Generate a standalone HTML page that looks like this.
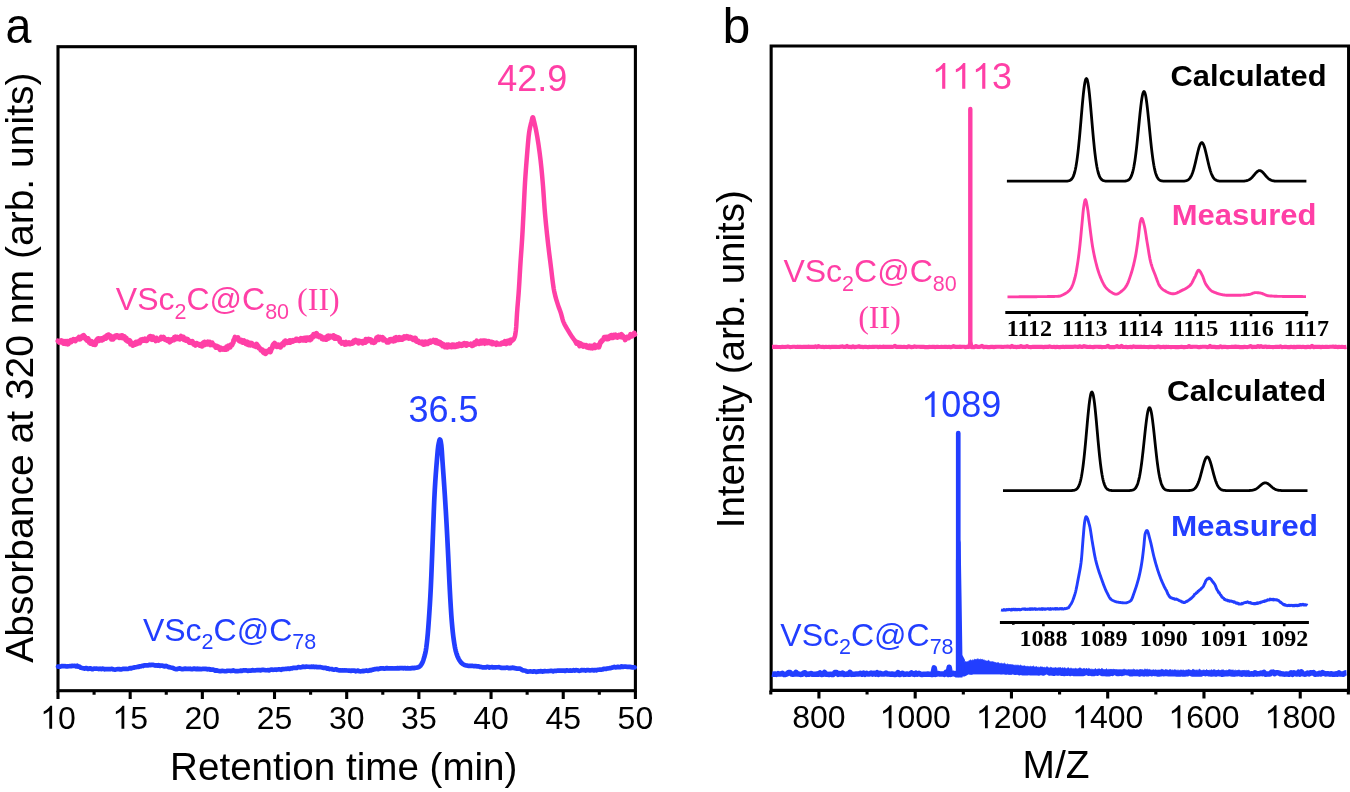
<!DOCTYPE html>
<html><head><meta charset="utf-8"><title>Figure</title>
<style>
html,body{margin:0;padding:0;background:#fff;}
body{width:1350px;height:792px;overflow:hidden;}
svg{display:block;will-change:transform;}
</style></head>
<body>
<svg width="1350" height="792" viewBox="0 0 1350 792">
<rect width="1350" height="792" fill="#fff"/>
<text x="5.6" y="43.1" font-family='"Liberation Sans", sans-serif' font-size="50" font-weight="normal" fill="#000" text-anchor="start" textLength="25.9" lengthAdjust="spacingAndGlyphs">a</text>
<text x="722.6" y="43.1" font-family='"Liberation Sans", sans-serif' font-size="50" font-weight="normal" fill="#000" text-anchor="start" >b</text>
<rect x="58" y="46.7" width="577.4" height="644" fill="none" stroke="#000" stroke-width="3.1"/>
<path d="M58 690.7 V698.9 M94.09 690.7 V694.7 M130.18 690.7 V698.9 M166.26 690.7 V694.7 M202.35 690.7 V698.9 M238.44 690.7 V694.7 M274.52 690.7 V698.9 M310.61 690.7 V694.7 M346.7 690.7 V698.9 M382.79 690.7 V694.7 M418.88 690.7 V698.9 M454.96 690.7 V694.7 M491.05 690.7 V698.9 M527.14 690.7 V694.7 M563.23 690.7 V698.9 M599.31 690.7 V694.7 M635.4 690.7 V698.9" stroke="#000" stroke-width="3.1" fill="none"/>
<text x="40.2" y="728.7" font-family='"Liberation Sans", sans-serif' font-size="32" fill="#000">&#8199;0</text>
<path transform="translate(40.2 728.7) scale(32)" d="M0.3726 0L0.2847 0L0.2847 -0.5601Q0.2529 -0.5298 0.2026 -0.5002Q0.1523 -0.4707 0.1089 -0.4546L0.1089 -0.5396Q0.1826 -0.5742 0.2368 -0.6230Q0.2910 -0.6719 0.3149 -0.7158L0.3726 -0.7158Z" fill="#000"/>
<text x="112.38" y="728.7" font-family='"Liberation Sans", sans-serif' font-size="32" fill="#000">&#8199;5</text>
<path transform="translate(112.38 728.7) scale(32)" d="M0.3726 0L0.2847 0L0.2847 -0.5601Q0.2529 -0.5298 0.2026 -0.5002Q0.1523 -0.4707 0.1089 -0.4546L0.1089 -0.5396Q0.1826 -0.5742 0.2368 -0.6230Q0.2910 -0.6719 0.3149 -0.7158L0.3726 -0.7158Z" fill="#000"/>
<text x="184.55" y="728.7" font-family='"Liberation Sans", sans-serif' font-size="32" fill="#000">20</text>
<text x="256.73" y="728.7" font-family='"Liberation Sans", sans-serif' font-size="32" fill="#000">25</text>
<text x="328.9" y="728.7" font-family='"Liberation Sans", sans-serif' font-size="32" fill="#000">30</text>
<text x="401.08" y="728.7" font-family='"Liberation Sans", sans-serif' font-size="32" fill="#000">35</text>
<text x="473.25" y="728.7" font-family='"Liberation Sans", sans-serif' font-size="32" fill="#000">40</text>
<text x="545.43" y="728.7" font-family='"Liberation Sans", sans-serif' font-size="32" fill="#000">45</text>
<text x="617.6" y="728.7" font-family='"Liberation Sans", sans-serif' font-size="32" fill="#000">50</text>
<text x="170.1" y="780.2" font-family='"Liberation Sans", sans-serif' font-size="38.6" font-weight="normal" fill="#000" text-anchor="start" >Retention time (min)</text>
<text transform="translate(33.1 662.7) rotate(-90)" x="0" y="0" font-family='"Liberation Sans", sans-serif' font-size="39" fill="#000" textLength="590.2" lengthAdjust="spacingAndGlyphs">Absorbance at 320 nm (arb. units)</text>
<path d="M58 340.95 L58.6 341.29 L59.2 342.46 L59.8 341.03 L60.4 341.3 L61 341.75 L61.6 340.72 L62.2 342.03 L62.8 342.68 L63.4 343.44 L64 341.38 L64.6 342.16 L65.2 341.49 L65.8 343.76 L66.4 343.34 L67 341.19 L67.6 344.11 L68.2 343.96 L68.8 342.84 L69.4 342.6 L70 340.99 L70.6 340.39 L71.2 341.89 L71.8 340.24 L72.4 340.45 L73 340.35 L73.6 339.37 L74.2 340.42 L74.8 339.99 L75.4 340.9 L76 339.5 L76.6 339.54 L77.2 338.76 L77.8 338.99 L78.4 338.08 L79 337.26 L79.6 339.3 L80.2 339.04 L80.8 338.31 L81.4 337.68 L82 336.26 L82.6 335.87 L83.2 336.02 L83.8 335.41 L84.4 337.88 L85 337.07 L85.6 338.96 L86.2 338.01 L86.8 340.41 L87.4 340.63 L88 338.48 L88.6 339.67 L89.2 342.35 L89.8 341.34 L90.4 343.4 L91 341.99 L91.6 341.39 L92.2 343.57 L92.8 344.38 L93.4 343.01 L94 342.56 L94.6 343.28 L95.2 344.75 L95.8 343.2 L96.4 340.17 L97 339.72 L97.6 338.75 L98.2 338.49 L98.8 340.76 L99.4 338.72 L100 339.89 L100.6 339.49 L101.2 338.62 L101.8 340.29 L102.4 338.28 L103 339.77 L103.6 337.77 L104.2 338.29 L104.8 337.08 L105.4 336.67 L106 338.34 L106.6 337.28 L107.2 335.27 L107.8 336.88 L108.4 334.69 L109 335.49 L109.6 337.36 L110.2 337.18 L110.8 335.98 L111.4 339.32 L112 337.21 L112.6 337.52 L113.2 339.12 L113.8 337.52 L114.4 337.15 L115 336.1 L115.6 335.8 L116.2 337.03 L116.8 335.63 L117.4 336.55 L118 335.7 L118.6 335.96 L119.2 337.61 L119.8 336.14 L120.4 336.51 L121 337.54 L121.6 335.46 L122.2 335.49 L122.8 338.03 L123.4 337.95 L124 336.44 L124.6 336.65 L125.2 338.86 L125.8 340 L126.4 338.14 L127 341.07 L127.6 341.36 L128.2 340.93 L128.8 340.84 L129.4 340.39 L130 340.79 L130.6 344.34 L131.2 342.58 L131.8 344.53 L132.4 343.44 L133 345.42 L133.6 344.68 L134.2 343.57 L134.8 342.96 L135.4 344.41 L136 341.98 L136.6 342.14 L137.2 342.86 L137.8 343.5 L138.4 342.49 L139 341.21 L139.6 343.04 L140.2 340.56 L140.8 339.77 L141.4 340.39 L142 340.77 L142.6 339.36 L143.2 339.54 L143.8 339.96 L144.4 340.41 L145 338.78 L145.6 339.27 L146.2 340.67 L146.8 340.64 L147.4 339.28 L148 339.09 L148.6 338.48 L149.2 336.84 L149.8 336.36 L150.4 336.26 L151 339.15 L151.6 338.58 L152.2 339.57 L152.8 336.74 L153.4 338.91 L154 338.63 L154.6 339.64 L155.2 338.51 L155.8 340.84 L156.4 337.99 L157 339.55 L157.6 340.11 L158.2 340.46 L158.8 339.67 L159.4 339.24 L160 339.18 L160.6 339.22 L161.2 337.11 L161.8 337.94 L162.4 338.5 L163 338.42 L163.6 337.18 L164.2 338.75 L164.8 339.47 L165.4 339.09 L166 339.8 L166.6 339.53 L167.2 340.57 L167.8 340.9 L168.4 339.25 L169 340.99 L169.6 342.01 L170.2 341.49 L170.8 340.81 L171.4 339.5 L172 340.37 L172.6 339.63 L173.2 338.94 L173.8 339.98 L174.4 337.35 L175 339.31 L175.6 336.86 L176.2 338.6 L176.8 338.13 L177.4 337.25 L178 338.68 L178.6 337.97 L179.2 338.28 L179.8 339.21 L180.4 337.05 L181 336.24 L181.6 337.16 L182.2 338.41 L182.8 337 L183.4 337.07 L184 339.66 L184.6 339.14 L185.2 338.75 L185.8 340.52 L186.4 339.05 L187 340.48 L187.6 339.32 L188.2 340.38 L188.8 341.87 L189.4 342.47 L190 342.61 L190.6 341.29 L191.2 342.2 L191.8 341.63 L192.4 341.35 L193 342.79 L193.6 344.17 L194.2 344.49 L194.8 344.32 L195.4 345.34 L196 343.43 L196.6 343.3 L197.2 344.39 L197.8 344 L198.4 343.93 L199 344.66 L199.6 345.39 L200.2 344.98 L200.8 344.34 L201.4 345.89 L202 346.18 L202.6 344.28 L203.2 342.85 L203.8 342.48 L204.4 344.96 L205 342.11 L205.6 344.09 L206.2 343.55 L206.8 342.69 L207.4 344.25 L208 341.83 L208.6 342.27 L209.2 343.39 L209.8 342.13 L210.4 344.84 L211 343.09 L211.6 342.95 L212.2 342.83 L212.8 344.88 L213.4 344.49 L214 345.28 L214.6 345.57 L215.2 346.4 L215.8 347.35 L216.4 347.01 L217 346.04 L217.6 347.49 L218.2 347.06 L218.8 346.94 L219.4 348.71 L220 349.59 L220.6 347.86 L221.2 348.14 L221.8 348.33 L222.4 349.4 L223 348.77 L223.6 348.99 L224.2 349.36 L224.8 348.1 L225.4 349.27 L226 349.51 L226.6 346.7 L227.2 349.15 L227.8 348.17 L228.4 345.92 L229 346.55 L229.6 346.65 L230.2 347.08 L230.8 344.87 L231.4 344.9 L232 344.95 L232.6 343.49 L233.2 342.65 L233.8 339.84 L234.4 339.34 L235 337.14 L235.6 338.51 L236.2 338.87 L236.8 338.46 L237.4 338.94 L238 337.62 L238.6 340.17 L239.2 340.81 L239.8 341.19 L240.4 340.18 L241 341.38 L241.6 340.22 L242.2 342.41 L242.8 342.52 L243.4 341.18 L244 340.62 L244.6 342.05 L245.2 342.68 L245.8 343.65 L246.4 343.02 L247 341.79 L247.6 344.51 L248.2 342.32 L248.8 344.84 L249.4 342.96 L250 343.59 L250.6 345.13 L251.2 343.14 L251.8 343.23 L252.4 344.48 L253 345.22 L253.6 345.67 L254.2 345.29 L254.8 346.23 L255.4 344.92 L256 346.58 L256.6 344.15 L257.2 345.02 L257.8 346.49 L258.4 346.27 L259 348.22 L259.6 348.44 L260.2 348.52 L260.8 350.04 L261.4 349.67 L262 349.43 L262.6 350.2 L263.2 352.19 L263.8 352.82 L264.4 350.95 L265 353.24 L265.6 353.7 L266.2 352.25 L266.8 352.32 L267.4 351 L268 351.88 L268.6 351.53 L269.2 351.57 L269.8 349.38 L270.4 352.01 L271 350.13 L271.6 348.72 L272.2 347.95 L272.8 345.27 L273.4 344.37 L274 345.06 L274.6 343.18 L275.2 344.86 L275.8 344.66 L276.4 346.62 L277 346.74 L277.6 344.86 L278.2 345.71 L278.8 344.76 L279.4 345.85 L280 347.11 L280.6 347.27 L281.2 345.6 L281.8 344.63 L282.4 343.67 L283 344.44 L283.6 344.83 L284.2 341.75 L284.8 343.4 L285.4 340.72 L286 341.16 L286.6 341.2 L287.2 342.61 L287.8 341.4 L288.4 341.47 L289 342.28 L289.6 340.59 L290.2 342.54 L290.8 340.53 L291.4 341.68 L292 340.72 L292.6 340.38 L293.2 341.24 L293.8 340.73 L294.4 340.31 L295 340.21 L295.6 340.38 L296.2 339.03 L296.8 339.03 L297.4 340.28 L298 340.18 L298.6 339.71 L299.2 340.63 L299.8 339.75 L300.4 340.43 L301 338.33 L301.6 339.87 L302.2 340.02 L302.8 340.26 L303.4 338.34 L304 338.31 L304.6 340.25 L305.2 338 L305.8 340.49 L306.4 340.14 L307 337.73 L307.6 338.07 L308.2 339.63 L308.8 338.13 L309.4 337.61 L310 339.96 L310.6 338.51 L311.2 339.3 L311.8 336.61 L312.4 336.82 L313 337 L313.6 334.17 L314.2 334.15 L314.8 335.23 L315.4 335.73 L316 335.93 L316.6 333.38 L317.2 334.92 L317.8 336.12 L318.4 335.76 L319 336.85 L319.6 335.79 L320.2 335.92 L320.8 336.52 L321.4 336.73 L322 338.72 L322.6 338.84 L323.2 339.12 L323.8 337.73 L324.4 337.73 L325 337.6 L325.6 339.39 L326.2 339.59 L326.8 339.09 L327.4 336.14 L328 335.77 L328.6 338.39 L329.2 336.67 L329.8 337.55 L330.4 336.15 L331 336.63 L331.6 336.83 L332.2 336.62 L332.8 337.25 L333.4 335.47 L334 337.79 L334.6 338.38 L335.2 336.4 L335.8 337.42 L336.4 338.49 L337 337.6 L337.6 337.26 L338.2 337.63 L338.8 339.3 L339.4 338.33 L340 341.78 L340.6 342.12 L341.2 342.38 L341.8 343.37 L342.4 342.99 L343 342.47 L343.6 343.12 L344.2 342.81 L344.8 344.34 L345.4 343.78 L346 342.03 L346.6 344.12 L347.2 343.58 L347.8 343.69 L348.4 343.81 L349 342.5 L349.6 344.07 L350.2 344.02 L350.8 343.42 L351.4 343.59 L352 343.47 L352.6 342.17 L353.2 343.01 L353.8 340.74 L354.4 341.44 L355 341.71 L355.6 340.16 L356.2 341.24 L356.8 342.14 L357.4 342.1 L358 340.84 L358.6 343.12 L359.2 342.23 L359.8 341.18 L360.4 342.21 L361 341.92 L361.6 341.81 L362.2 341.32 L362.8 343.19 L363.4 341.9 L364 341.93 L364.6 341.94 L365.2 342.47 L365.8 339.25 L366.4 341.03 L367 341.37 L367.6 339.83 L368.2 340.32 L368.8 339.23 L369.4 339.75 L370 340.39 L370.6 339.57 L371.2 340.12 L371.8 342.28 L372.4 341.2 L373 341.1 L373.6 342.59 L374.2 341.28 L374.8 342.38 L375.4 340.79 L376 340.79 L376.6 337.87 L377.2 339.05 L377.8 339.23 L378.4 336.84 L379 339.69 L379.6 337.25 L380.2 338.28 L380.8 337.37 L381.4 338.48 L382 338.93 L382.6 337.25 L383.2 340.19 L383.8 338.63 L384.4 339.23 L385 340.04 L385.6 340.01 L386.2 340.44 L386.8 342.09 L387.4 341.89 L388 340.94 L388.6 342.21 L389.2 340.69 L389.8 339.58 L390.4 340.09 L391 339.2 L391.6 339.33 L392.2 341.02 L392.8 339.65 L393.4 341.08 L394 340.39 L394.6 337.93 L395.2 340.71 L395.8 340.35 L396.4 337.36 L397 339.85 L397.6 338.19 L398.2 338.24 L398.8 339.76 L399.4 337.36 L400 338.2 L400.6 339.47 L401.2 338.73 L401.8 337.87 L402.4 339.46 L403 338.91 L403.6 338.19 L404.2 336.6 L404.8 338.21 L405.4 337.66 L406 336.85 L406.6 336.37 L407.2 337.9 L407.8 336.62 L408.4 337.66 L409 338.41 L409.6 337.76 L410.2 337.18 L410.8 338.24 L411.4 337.77 L412 338.98 L412.6 338.25 L413.2 339.81 L413.8 339.74 L414.4 339.21 L415 338.01 L415.6 338.15 L416.2 341.26 L416.8 341.53 L417.4 341.57 L418 341.12 L418.6 341.06 L419.2 342.57 L419.8 342.35 L420.4 342.6 L421 342.89 L421.6 343.42 L422.2 341.75 L422.8 342.06 L423.4 344.5 L424 344.39 L424.6 344.35 L425.2 341.73 L425.8 341.85 L426.4 342.55 L427 343.06 L427.6 343.66 L428.2 341.84 L428.8 343 L429.4 341.18 L430 340.88 L430.6 342.42 L431.2 341.7 L431.8 341.7 L432.4 340.73 L433 341.03 L433.6 340.22 L434.2 340.72 L434.8 342.12 L435.4 342.57 L436 340.3 L436.6 340.63 L437.2 343.04 L437.8 342.65 L438.4 343.33 L439 341.75 L439.6 342.62 L440.2 342.33 L440.8 344.37 L441.4 343.27 L442 344.51 L442.6 345.93 L443.2 344.15 L443.8 345.19 L444.4 346.12 L445 346.95 L445.6 345.59 L446.2 345.57 L446.8 344.79 L447.4 347.3 L448 344.75 L448.6 344.77 L449.2 346.31 L449.8 346.05 L450.4 346.69 L451 345.46 L451.6 346.98 L452.2 344.74 L452.8 345.18 L453.4 346.62 L454 344.76 L454.6 345.47 L455.2 346.82 L455.8 346.67 L456.4 345.26 L457 344.67 L457.6 345.19 L458.2 346.17 L458.8 344.81 L459.4 343.79 L460 345.47 L460.6 344.8 L461.2 345.72 L461.8 345.62 L462.4 345.39 L463 343.76 L463.6 344.88 L464.2 343.28 L464.8 343.37 L465.4 343.72 L466 345.55 L466.6 345.56 L467.2 343.63 L467.8 344.14 L468.4 344.29 L469 344.4 L469.6 344.6 L470.2 344.63 L470.8 344.02 L471.4 345.12 L472 345.71 L472.6 344.66 L473.2 345.33 L473.8 344.15 L474.4 342.59 L475 344.13 L475.6 344.21 L476.2 342.01 L476.8 340.95 L477.4 342.36 L478 342.35 L478.6 342.42 L479.2 343.69 L479.8 342.68 L480.4 343.17 L481 340.8 L481.6 342.35 L482.2 343.12 L482.8 340.87 L483.4 340.86 L484 342.96 L484.6 343.48 L485.2 340.87 L485.8 342.63 L486.4 341.06 L487 342.99 L487.6 342.68 L488.2 341.39 L488.8 341.31 L489.4 343.05 L490 342.29 L490.6 343.12 L491.2 342.01 L491.8 341.93 L492.4 344.07 L493 343.24 L493.6 342.79 L494.2 343.05 L494.8 343.74 L495.4 343.78 L496 344.5 L496.6 342.91 L497.2 344.24 L497.8 343.7 L498.4 344.26 L499 344.05 L499.6 344.08 L500.2 344.19 L500.8 344.33 L501.4 343.24 L502 342.79 L502.6 343.32 L503.2 343.55 L503.8 342.27 L504.4 342.2 L505 341.26 L505.6 343.09 L506.2 343.82 L506.8 341.78 L507.4 341.03 L508 341.05 L508.6 341.66 L509.2 341.13 L509.8 343.17 L510.4 340.11 L511 340.72 L511.6 339.85" fill="none" stroke="#FF3FA6" stroke-width="5.0" stroke-linejoin="round" stroke-linecap="round"/>
<path d="M511 341.33 L511.4 341.18 L511.8 340.98 L512.2 340.72 L512.6 340.41 L513 340.04 L513.4 339.62 L513.8 339.08 L514.2 338.32 L514.6 337.3 L515 336 L515.4 333.98 L515.8 330.93 L516.2 327 L516.6 320.4 L517 313.53 L517.4 308.17 L517.8 303.32 L518.2 298.57 L518.6 293.49 L519 287.69 L519.4 281.12 L519.8 274.21 L520.2 267.42 L520.6 261.15 L521 255.36 L521.4 249.72 L521.8 243.91 L522.2 237.6 L522.6 230.54 L523 222.93 L523.4 215.05 L523.8 207.04 L524.2 198.46 L524.6 190.12 L525 182.94 L525.4 176.67 L525.8 170.92 L526.2 165.55 L526.6 160.47 L527 155.52 L527.4 150.52 L527.8 145.6 L528.2 140.98 L528.6 136.84 L529 133.4 L529.4 130.77 L529.8 128.58 L530.2 126.68 L530.6 124.99 L531 123.42 L531.4 121.89 L531.8 120.2 L532.2 118.41 L532.6 117.19 L533 117.19 L533.4 118.41 L533.8 120.2 L534.2 121.89 L534.6 123.51 L535 125.22 L535.4 127.02 L535.8 128.93 L536.2 130.95 L536.6 133.08 L537 135.31 L537.4 137.64 L537.8 140.08 L538.2 142.62 L538.6 145.29 L539 148.07 L539.4 150.98 L539.8 154.01 L540.2 157.19 L540.6 160.54 L541 164.17 L541.4 168.06 L541.8 172.19 L542.2 176.53 L542.6 181.08 L543 185.82 L543.4 191.22 L543.8 197.11 L544.2 203.05 L544.6 208.6 L545 213.44 L545.4 217.92 L545.8 222.17 L546.2 226.22 L546.6 230.12 L547 233.9 L547.4 237.6 L547.8 241.21 L548.2 244.7 L548.6 248.09 L549 251.4 L549.4 254.65 L549.8 257.85 L550.2 261.03 L550.6 264.2 L551 267.45 L551.4 270.79 L551.8 274.17 L552.2 277.52 L552.6 280.75 L553 283.8 L553.4 286.6 L553.8 289.09 L554.2 291.19 L554.6 293.06 L555 294.78 L555.4 296.37 L555.8 297.86 L556.2 299.26 L556.6 300.59 L557 301.88 L557.4 303.13 L557.8 304.38 L558.2 305.61 L558.6 306.76 L559 307.85 L559.4 308.9 L559.8 309.95 L560.2 311.04 L560.6 312.2 L561 313.48 L561.4 314.91 L561.8 316.43 L562.2 317.94 L562.6 319.38 L563 320.67 L563.4 321.75 L563.8 322.7 L564.2 323.59 L564.6 324.42 L565 325.2 L565.4 325.94 L565.8 326.65 L566.2 327.34 L566.6 328.01 L567 328.67 L567.4 329.33 L567.8 330 L568.2 330.68 L568.6 331.35 L569 332.02 L569.4 332.69 L569.8 333.35 L570.2 334 L570.6 334.64 L571 335.27 L571.4 335.89 L571.8 336.5 L572.2 337.09 L572.6 337.66 L573 338.22 L573.4 338.75 L573.8 339.27 L574.2 339.76 L574.6 340.24 L575 340.72 L575.4 341.2 L575.8 341.68 L576.2 342.15 L576.6 342.59 L577 343.01" fill="none" stroke="#FF3FA6" stroke-width="4.5" stroke-linejoin="round" stroke-linecap="round"/>
<path d="M576 342.39 L576.6 343.48 L577.2 342.19 L577.8 342.34 L578.4 344.03 L579 344.71 L579.6 345.97 L580.2 343.39 L580.8 343.82 L581.4 344.25 L582 344.54 L582.6 344.77 L583.2 346.47 L583.8 346.23 L584.4 345.18 L585 345.18 L585.6 345.6 L586.2 345.35 L586.8 347.31 L587.4 345.95 L588 346.77 L588.6 347.67 L589.2 346.62 L589.8 345.93 L590.4 347.94 L591 348.01 L591.6 346.16 L592.2 346.79 L592.8 348.06 L593.4 346.49 L594 345.59 L594.6 344.97 L595.2 347.76 L595.8 347.2 L596.4 345.77 L597 346.11 L597.6 345.95 L598.2 345.05 L598.8 347.19 L599.4 345.79 L600 343.65 L600.6 341.83 L601.2 342.07 L601.8 340.51 L602.4 340.8 L603 339.79 L603.6 339.1 L604.2 337.42 L604.8 337.19 L605.4 337.51 L606 337.13 L606.6 338.92 L607.2 337.64 L607.8 337.9 L608.4 338.91 L609 336.48 L609.6 337.23 L610.2 335.9 L610.8 337.79 L611.4 335.23 L612 337.76 L612.6 337.74 L613.2 337.56 L613.8 335.09 L614.4 335.59 L615 336.92 L615.6 334.84 L616.2 335.97 L616.8 335.84 L617.4 337.32 L618 336.07 L618.6 336.87 L619.2 335.05 L619.8 336.56 L620.4 335.35 L621 336.93 L621.6 334.4 L622.2 337.14 L622.8 335.72 L623.4 337.44 L624 338.03 L624.6 337.39 L625.2 339.89 L625.8 338.29 L626.4 338.16 L627 337.15 L627.6 337.53 L628.2 337.6 L628.8 337.9 L629.4 336.24 L630 336.77 L630.6 334.41 L631.2 334.88 L631.8 334.72 L632.4 336.06 L633 335.48 L633.6 334.92 L634.2 333.01 L634.8 334.4" fill="none" stroke="#FF3FA6" stroke-width="5.0" stroke-linejoin="round" stroke-linecap="round"/>
<path d="M58 666.58 L59.2 666.68 L60.4 666.65 L61.6 666.18 L62.8 666.02 L64 666.26 L65.2 666.13 L66.4 666.51 L67.6 666.36 L68.8 666.25 L70 666.17 L71.2 666.21 L72.4 665.77 L73.6 665.98 L74.8 665.74 L76 666.33 L77.2 665.72 L78.4 666.71 L79.6 666.69 L80.8 667.78 L82 667.98 L83.2 668.23 L84.4 668.65 L85.6 668.05 L86.8 668.14 L88 668.88 L89.2 668.61 L90.4 668.33 L91.6 669.09 L92.8 669.1 L94 668.48 L95.2 668.77 L96.4 668.57 L97.6 668.75 L98.8 669.03 L100 668.69 L101.2 669.15 L102.4 668.66 L103.6 668.78 L104.8 669.32 L106 669.01 L107.2 669.04 L108.4 669.2 L109.6 669.12 L110.8 669.06 L112 668.78 L113.2 669.35 L114.4 669.55 L115.6 669.57 L116.8 669.32 L118 669.08 L119.2 669.09 L120.4 669.35 L121.6 669.34 L122.8 668.87 L124 668.91 L125.2 668.93 L126.4 668.93 L127.6 669.02 L128.8 668.61 L130 668.04 L131.2 668.47 L132.4 667.94 L133.6 667.78 L134.8 667.3 L136 667.22 L137.2 666.95 L138.4 667.01 L139.6 666.24 L140.8 666.36 L142 665.85 L143.2 666.05 L144.4 665.34 L145.6 665.36 L146.8 665.27 L148 665.38 L149.2 664.82 L150.4 665.09 L151.6 664.87 L152.8 664.93 L154 665.12 L155.2 665.55 L156.4 665.24 L157.6 665.69 L158.8 665.16 L160 665.87 L161.2 665.53 L162.4 665.51 L163.6 666.09 L164.8 666.35 L166 665.85 L167.2 666.37 L168.4 667.15 L169.6 667.22 L170.8 667.55 L172 667.74 L173.2 668.07 L174.4 668.73 L175.6 669.09 L176.8 669.13 L178 668.76 L179.2 668.39 L180.4 668.65 L181.6 669.03 L182.8 669.08 L184 668.94 L185.2 668.62 L186.4 668.86 L187.6 668.83 L188.8 668.95 L190 668.67 L191.2 669.22 L192.4 669.18 L193.6 668.6 L194.8 668.71 L196 669.19 L197.2 668.72 L198.4 669.26 L199.6 668.93 L200.8 669.09 L202 669.11 L203.2 668.73 L204.4 668.81 L205.6 668.81 L206.8 669.21 L208 669.31 L209.2 668.99 L210.4 669.75 L211.6 669.55 L212.8 669.59 L214 669.94 L215.2 670.57 L216.4 670.41 L217.6 670.63 L218.8 671.01 L220 671.16 L221.2 671.07 L222.4 670.83 L223.6 670.97 L224.8 671.22 L226 671.12 L227.2 670.94 L228.4 670.75 L229.6 670.75 L230.8 671.03 L232 670.87 L233.2 670.42 L234.4 670.95 L235.6 671.09 L236.8 670.98 L238 671.03 L239.2 671.02 L240.4 670.7 L241.6 670.87 L242.8 670.52 L244 670.27 L245.2 670.45 L246.4 670.39 L247.6 670.86 L248.8 670.64 L250 670.5 L251.2 670.54 L252.4 670.11 L253.6 670.41 L254.8 670.52 L256 670.25 L257.2 670.1 L258.4 670.2 L259.6 670.1 L260.8 670.36 L262 669.9 L263.2 669.82 L264.4 669.96 L265.6 670.24 L266.8 670.25 L268 670.13 L269.2 670.31 L270.4 669.81 L271.6 669.5 L272.8 669.82 L274 669.74 L275.2 669.48 L276.4 669.82 L277.6 669.51 L278.8 669.38 L280 669.39 L281.2 669.82 L282.4 669 L283.6 669.18 L284.8 669 L286 668.81 L287.2 668.85 L288.4 668.53 L289.6 668.92 L290.8 668.42 L292 668.41 L293.2 667.81 L294.4 667.87 L295.6 667.82 L296.8 667.84 L298 667.2 L299.2 667.22 L300.4 667.39 L301.6 667.25 L302.8 666.65 L304 666.8 L305.2 666.9 L306.4 666.56 L307.6 666.75 L308.8 666.73 L310 666.99 L311.2 666.7 L312.4 666.85 L313.6 666.66 L314.8 667.06 L316 666.83 L317.2 667.09 L318.4 667.11 L319.6 667.21 L320.8 667.22 L322 667.45 L323.2 667.87 L324.4 667.81 L325.6 667.82 L326.8 668.6 L328 668.37 L329.2 669.07 L330.4 668.98 L331.6 668.99 L332.8 669.55 L334 669.74 L335.2 669.44 L336.4 669.44 L337.6 669.99 L338.8 670.29 L340 670.23 L341.2 670.48 L342.4 670.28 L343.6 670.52 L344.8 670.3 L346 670.47 L347.2 670.5 L348.4 670.55 L349.6 670.62 L350.8 670.99 L352 670.52 L353.2 670.6 L354.4 670.67 L355.6 671.28 L356.8 670.95 L358 670.6 L359.2 671.25 L360.4 671.29 L361.6 671.26 L362.8 670.88 L364 671.13 L365.2 670.71 L366.4 670.47 L367.6 670.91 L368.8 670.73 L370 670.06 L371.2 670.41 L372.4 669.53 L373.6 669.55 L374.8 669.11 L376 669.04 L377.2 668.85 L378.4 669.11 L379.6 668.62 L380.8 668.4 L382 668.28 L383.2 668.3 L384.4 668.69 L385.6 668.46 L386.8 668.03 L388 668.47 L389.2 668.33 L390.4 668.25 L391.6 668.3 L392.8 668.38 L394 668.49 L395.2 668.25 L396.4 668.34 L397.6 668.2 L398.8 668.32 L400 668.12 L401.2 668.13 L402.4 668.2 L403.6 668.35 L404.8 667.99 L406 668.49 L407.2 668.13 L408.4 668.4 L409.6 668.24 L410.8 668.43 L411.3 668.2 L411.8 667.98 L412.3 667.95 L412.8 668.1 L413.3 668.2 L413.8 668.25 L414.3 667.94 L414.8 667.9 L415.3 667.85 L415.8 667.78 L416.3 667.71 L416.8 667.63 L417.3 667.54 L417.8 667.4 L418.3 667.22 L418.8 666.99 L419.3 666.72 L419.8 666.39 L420.3 665.91 L420.8 665.29 L421.3 664.56 L421.8 663.75 L422.3 662.81 L422.8 661.62 L423.3 660.2 L423.8 658.65 L424.3 657.01 L424.8 655.22 L425.3 653.16 L425.8 650.7 L426.3 647.52 L426.8 643.54 L427.3 638.96 L427.8 633.78 L428.3 627.55 L428.8 620.63 L429.3 613.36 L429.8 605.6 L430.3 597.13 L430.8 587.7 L431.3 576.48 L431.8 563.79 L432.3 550.96 L432.8 537.67 L433.3 524.6 L433.8 511.61 L434.3 499.29 L434.8 489.51 L435.3 481.35 L435.8 474.12 L436.3 467.59 L436.8 461.5 L437.3 455.43 L437.8 449.79 L438.3 445.58 L438.8 442.92 L439.3 440.71 L439.8 439.43 L440.3 439.71 L440.8 441.85 L441.3 445 L441.8 450.64 L442.3 458.52 L442.8 465.69 L443.3 472.68 L443.8 479.77 L444.3 487.05 L444.8 494.65 L445.3 502.53 L445.8 510.72 L446.3 519.27 L446.8 528.27 L447.3 537.9 L447.8 547.95 L448.3 558.16 L448.8 568.94 L449.3 579.74 L449.8 589.56 L450.3 598.77 L450.8 607.46 L451.3 615.2 L451.8 621.63 L452.3 627.24 L452.8 632.19 L453.3 636.48 L453.8 640.15 L454.3 643.49 L454.8 646.46 L455.3 649.01 L455.8 651.08 L456.3 652.84 L456.8 654.42 L457.3 655.81 L457.8 657.04 L458.3 658.11 L458.8 659.06 L459.3 659.94 L459.8 660.77 L460.3 661.52 L460.8 662.19 L461.3 662.77 L461.8 663.24 L462.3 663.62 L462.8 663.96 L463.3 664.28 L463.8 664.56 L464.3 664.81 L464.8 665.03 L465.3 665.21 L465.8 665.35 L466.3 665.46 L466.8 665.56 L467.3 665.65 L467.8 665.73 L468.3 665.8 L468.8 665.87 L469.3 665.93 L469.8 665.98 L470.3 665.74 L471.5 665.8 L472.7 665.95 L473.9 666.04 L475.1 666.12 L476.3 666.17 L477.5 666.44 L478.7 666.41 L479.9 666.94 L481.1 666.95 L482.3 667.3 L483.5 667.35 L484.7 667.23 L485.9 667.44 L487.1 666.75 L488.3 666.95 L489.5 667.55 L490.7 667.22 L491.9 667.04 L493.1 667.52 L494.3 667.28 L495.5 667.41 L496.7 667.26 L497.9 667.23 L499.1 667.14 L500.3 667.59 L501.5 667.91 L502.7 667.97 L503.9 667.83 L505.1 668.01 L506.3 667.6 L507.5 667.6 L508.7 668.15 L509.9 667.95 L511.1 668.07 L512.3 667.61 L513.5 667.86 L514.7 668.15 L515.9 668.43 L517.1 668.6 L518.3 668.66 L519.5 668.58 L520.7 668.98 L521.9 669.82 L523.1 670.41 L524.3 670.49 L525.5 670.7 L526.7 671.4 L527.9 671.56 L529.1 671.49 L530.3 671.38 L531.5 671.5 L532.7 671.67 L533.9 671.26 L535.1 671.57 L536.3 671.88 L537.5 671.68 L538.7 671.26 L539.9 671.36 L541.1 671.07 L542.3 671.54 L543.5 671.42 L544.7 671.01 L545.9 671.27 L547.1 671.27 L548.3 671.21 L549.5 671.01 L550.7 670.91 L551.9 670.9 L553.1 671.37 L554.3 670.79 L555.5 670.89 L556.7 670.82 L557.9 670.55 L559.1 670.7 L560.3 670.51 L561.5 670.57 L562.7 670.58 L563.9 670.54 L565.1 670.98 L566.3 670.45 L567.5 670.45 L568.7 670.69 L569.9 670.46 L571.1 670.54 L572.3 670.62 L573.5 670.15 L574.7 670.61 L575.9 670.13 L577.1 670.23 L578.3 670.66 L579.5 670.79 L580.7 670.51 L581.9 670.09 L583.1 670.28 L584.3 670.13 L585.5 670.56 L586.7 670.04 L587.9 669.99 L589.1 670.31 L590.3 670.28 L591.5 670.21 L592.7 670.08 L593.9 670.43 L595.1 669.98 L596.3 670.32 L597.5 669.8 L598.7 669.76 L599.9 669.54 L601.1 669.68 L602.3 669.53 L603.5 668.94 L604.7 668.97 L605.9 668.93 L607.1 668.53 L608.3 668.45 L609.5 668.2 L610.7 668.07 L611.9 667.58 L613.1 667.34 L614.3 666.94 L615.5 667.47 L616.7 667.25 L617.9 666.81 L619.1 667.17 L620.3 667.06 L621.5 666.42 L622.7 666.98 L623.9 666.68 L625.1 666.66 L626.3 666.7 L627.5 666.93 L628.7 666.75 L629.9 666.88 L631.1 667.06 L632.3 667.35 L633.5 667.35 L634.7 667.44" fill="none" stroke="#223EFF" stroke-width="4.7" stroke-linejoin="round" stroke-linecap="round"/>
<text x="497.28" y="90.5" font-family='"Liberation Sans", sans-serif' font-size="36" font-weight="normal" fill="#FF3FA6" text-anchor="start" >42.9</text>
<text x="408.46" y="421.8" font-family='"Liberation Sans", sans-serif' font-size="36" font-weight="normal" fill="#223EFF" text-anchor="start" >36.5</text>
<text x="115.8" y="309.9" font-family='"Liberation Sans", sans-serif' font-size="32" fill="#FF3FA6">VSc<tspan font-size="21.5" dy="8.7">2</tspan><tspan dy="-8.7">C@C</tspan><tspan font-size="21.5" dy="8.7">80</tspan><tspan dy="-8.7" font-family='"Liberation Serif", serif'> (II)</tspan></text>
<text x="142.9" y="640.7" font-family='"Liberation Sans", sans-serif' font-size="32" fill="#223EFF">VSc<tspan font-size="21.5" dy="8.7">2</tspan><tspan dy="-8.7">C@C</tspan><tspan font-size="21.5" dy="8.7">78</tspan></text>
<path d="M771.15 690.4 V46.0 H1348.6 V690.4 Z" fill="none" stroke="#000" stroke-width="3.1"/>
<path d="M770.8 690.4 V694.4 M818.93 690.4 V698.6 M867.06 690.4 V694.4 M915.19 690.4 V698.6 M963.32 690.4 V694.4 M1011.45 690.4 V698.6 M1059.58 690.4 V694.4 M1107.71 690.4 V698.6 M1155.84 690.4 V694.4 M1203.97 690.4 V698.6 M1252.1 690.4 V694.4 M1300.23 690.4 V698.6 M1348.36 690.4 V694.4" stroke="#000" stroke-width="3.1" fill="none"/>
<text x="792.23" y="728.2" font-family='"Liberation Sans", sans-serif' font-size="32" fill="#000">800</text>
<text x="879.6" y="728.2" font-family='"Liberation Sans", sans-serif' font-size="32" fill="#000">&#8199;000</text>
<path transform="translate(879.6 728.2) scale(32)" d="M0.3726 0L0.2847 0L0.2847 -0.5601Q0.2529 -0.5298 0.2026 -0.5002Q0.1523 -0.4707 0.1089 -0.4546L0.1089 -0.5396Q0.1826 -0.5742 0.2368 -0.6230Q0.2910 -0.6719 0.3149 -0.7158L0.3726 -0.7158Z" fill="#000"/>
<text x="975.86" y="728.2" font-family='"Liberation Sans", sans-serif' font-size="32" fill="#000">&#8199;200</text>
<path transform="translate(975.86 728.2) scale(32)" d="M0.3726 0L0.2847 0L0.2847 -0.5601Q0.2529 -0.5298 0.2026 -0.5002Q0.1523 -0.4707 0.1089 -0.4546L0.1089 -0.5396Q0.1826 -0.5742 0.2368 -0.6230Q0.2910 -0.6719 0.3149 -0.7158L0.3726 -0.7158Z" fill="#000"/>
<text x="1072.12" y="728.2" font-family='"Liberation Sans", sans-serif' font-size="32" fill="#000">&#8199;400</text>
<path transform="translate(1072.12 728.2) scale(32)" d="M0.3726 0L0.2847 0L0.2847 -0.5601Q0.2529 -0.5298 0.2026 -0.5002Q0.1523 -0.4707 0.1089 -0.4546L0.1089 -0.5396Q0.1826 -0.5742 0.2368 -0.6230Q0.2910 -0.6719 0.3149 -0.7158L0.3726 -0.7158Z" fill="#000"/>
<text x="1168.38" y="728.2" font-family='"Liberation Sans", sans-serif' font-size="32" fill="#000">&#8199;600</text>
<path transform="translate(1168.38 728.2) scale(32)" d="M0.3726 0L0.2847 0L0.2847 -0.5601Q0.2529 -0.5298 0.2026 -0.5002Q0.1523 -0.4707 0.1089 -0.4546L0.1089 -0.5396Q0.1826 -0.5742 0.2368 -0.6230Q0.2910 -0.6719 0.3149 -0.7158L0.3726 -0.7158Z" fill="#000"/>
<text x="1264.64" y="728.2" font-family='"Liberation Sans", sans-serif' font-size="32" fill="#000">&#8199;800</text>
<path transform="translate(1264.64 728.2) scale(32)" d="M0.3726 0L0.2847 0L0.2847 -0.5601Q0.2529 -0.5298 0.2026 -0.5002Q0.1523 -0.4707 0.1089 -0.4546L0.1089 -0.5396Q0.1826 -0.5742 0.2368 -0.6230Q0.2910 -0.6719 0.3149 -0.7158L0.3726 -0.7158Z" fill="#000"/>
<text x="1022.49" y="777.8" font-family='"Liberation Sans", sans-serif' font-size="38.9" font-weight="normal" fill="#000" text-anchor="start" >M/Z</text>
<text transform="translate(743.5 528.3) rotate(-90)" x="0" y="0" font-family='"Liberation Sans", sans-serif' font-size="38.5" fill="#000">Intensity (arb. units)</text>
<path d="M772 346.85 L773.5 346.77 L775 346.93 L776.5 346.92 L778 346.99 L779.5 347.01 L781 347.04 L782.5 346.76 L784 346.99 L785.5 346.96 L787 346.72 L788.5 346.71 L790 347.04 L791.5 346.99 L793 346.75 L794.5 346.75 L796 346.98 L797.5 346.72 L799 346.95 L800.5 346.77 L802 347.04 L803.5 346.76 L805 346.86 L806.5 346.9 L808 346.71 L809.5 346.88 L811 346.87 L812.5 346.92 L814 346.96 L815.5 346.33 L817 347.04 L818.5 346.2 L820 346.75 L821.5 346.96 L823 346.94 L824.5 347.04 L826 346.8 L827.5 346.99 L829 346.86 L830.5 347.09 L832 346.78 L833.5 346.81 L835 346.83 L836.5 346.85 L838 347 L839.5 346.79 L841 346.71 L842.5 346.42 L844 346.93 L845.5 346.83 L847 345.97 L848.5 346.94 L850 346.92 L851.5 347.09 L853 346.28 L854.5 347.08 L856 346.91 L857.5 346.77 L859 346.31 L860.5 346.94 L862 346.97 L863.5 347.06 L865 346.76 L866.5 346.94 L868 347.05 L869.5 346.93 L871 347.02 L872.5 346.8 L874 346.94 L875.5 346.77 L877 346.73 L878.5 347.08 L880 346.72 L881.5 346.99 L883 346.71 L884.5 346.78 L886 346.83 L887.5 346.77 L889 346.79 L890.5 346.91 L892 346.96 L893.5 346.71 L895 345.95 L896.5 346.99 L898 346.77 L899.5 346.93 L901 346.9 L902.5 346.99 L904 346.77 L905.5 347 L907 347.04 L908.5 346.35 L910 346.73 L911.5 347.1 L913 347 L914.5 346.4 L916 346.84 L917.5 346.77 L919 346.74 L920.5 346.83 L922 346.83 L923.5 346.78 L925 347.09 L926.5 346.98 L928 347.07 L929.5 346.81 L931 347.01 L932.5 346.77 L934 346.89 L935.5 347.05 L937 346.8 L938.5 346.91 L940 346.98 L941.5 346.8 L943 347 L944.5 346.78 L946 346.81 L947.5 347.04 L949 346.74 L950.5 347.1 L952 346.86 L953.5 346.21 L955 346.79 L956.5 346.87 L958 346.88 L959.5 346.72 L961 346.82 L962.5 346.77 L964 346.74 L965.5 347.09 L967 346.95 L968.5 346.99 L970 345.95 L971.5 347.06 L973 346.98 L974.5 347.08 L976 346.04 L977.5 346.93 L979 346.87 L980.5 346.71 L982 345.99 L983.5 347.06 L985 346.91 L986.5 346.89 L988 347.08 L989.5 347.06 L991 346.9 L992.5 346.82 L994 347.09 L995.5 346.81 L997 346.74 L998.5 346.76 L1000 346.73 L1001.5 346.81 L1003 347.02 L1004.5 346.77 L1006 346.76 L1007.5 346.7 L1009 346.73 L1010.5 347.07 L1012 345.97 L1013.5 346.85 L1015 346.76 L1016.5 347.08 L1018 346.77 L1019.5 346.92 L1021 346.08 L1022.5 346.87 L1024 346.89 L1025.5 346.85 L1027 346.09 L1028.5 346.82 L1030 347.04 L1031.5 347.03 L1033 346.79 L1034.5 346.74 L1036 346.8 L1037.5 346.83 L1039 346.91 L1040.5 346.91 L1042 346.97 L1043.5 347.07 L1045 346.9 L1046.5 346.74 L1048 346.86 L1049.5 346.42 L1051 346.8 L1052.5 347.03 L1054 346.86 L1055.5 347.06 L1057 346.86 L1058.5 347.03 L1060 347.06 L1061.5 346.97 L1063 346.71 L1064.5 347.03 L1066 346.72 L1067.5 346.92 L1069 346.87 L1070.5 346.97 L1072 346.88 L1073.5 346.8 L1075 346.52 L1076.5 346.72 L1078 347.02 L1079.5 346.33 L1081 346.88 L1082.5 346.8 L1084 346.05 L1085.5 346.71 L1087 346.86 L1088.5 346.98 L1090 346.7 L1091.5 346.99 L1093 347.1 L1094.5 346.86 L1096 346.74 L1097.5 346.75 L1099 346.94 L1100.5 346.77 L1102 347.08 L1103.5 347.01 L1105 347.01 L1106.5 346.68 L1108 345.89 L1109.5 347.07 L1111 347.05 L1112.5 347.03 L1114 347.08 L1115.5 346.79 L1117 346.02 L1118.5 346.94 L1120 346.91 L1121.5 345.85 L1123 346.98 L1124.5 347 L1126 346.96 L1127.5 347.05 L1129 347 L1130.5 346.88 L1132 347.08 L1133.5 346.45 L1135 346.81 L1136.5 346.79 L1138 346.96 L1139.5 346.91 L1141 346.71 L1142.5 347 L1144 346.83 L1145.5 347.02 L1147 347.01 L1148.5 347.08 L1150 346.74 L1151.5 346.97 L1153 347 L1154.5 347.04 L1156 346.94 L1157.5 346.7 L1159 346.71 L1160.5 347.1 L1162 346.98 L1163.5 346.83 L1165 347.05 L1166.5 346.83 L1168 346.97 L1169.5 347.02 L1171 347.05 L1172.5 347.02 L1174 347 L1175.5 347.03 L1177 347.09 L1178.5 347.06 L1180 347.01 L1181.5 346.82 L1183 347.03 L1184.5 347.07 L1186 347.02 L1187.5 346.98 L1189 346.13 L1190.5 346.98 L1192 346.86 L1193.5 346.74 L1195 346.73 L1196.5 346.73 L1198 347.06 L1199.5 347.08 L1201 346.96 L1202.5 346.74 L1204 346.74 L1205.5 346.76 L1207 347.06 L1208.5 346.92 L1210 345.94 L1211.5 346.93 L1213 346.93 L1214.5 346.86 L1216 347.07 L1217.5 347.03 L1219 347.08 L1220.5 346.28 L1222 347.06 L1223.5 346.89 L1225 346.79 L1226.5 347.05 L1228 347.03 L1229.5 346.98 L1231 346.97 L1232.5 346.87 L1234 346.87 L1235.5 346.7 L1237 346.84 L1238.5 346.9 L1240 347.05 L1241.5 347.06 L1243 347.08 L1244.5 346.84 L1246 347.02 L1247.5 347.03 L1249 346.75 L1250.5 346.12 L1252 347.08 L1253.5 346.91 L1255 346.8 L1256.5 346.97 L1258 346.03 L1259.5 346.81 L1261 346.23 L1262.5 346.86 L1264 346.86 L1265.5 346.55 L1267 347.03 L1268.5 346.78 L1270 346.95 L1271.5 347.01 L1273 347.07 L1274.5 347.02 L1276 346.75 L1277.5 346.79 L1279 347.01 L1280.5 346.43 L1282 347.07 L1283.5 347.01 L1285 346.76 L1286.5 346.94 L1288 347.05 L1289.5 347.07 L1291 346.86 L1292.5 347.03 L1294 346.94 L1295.5 347.09 L1297 346.88 L1298.5 346.73 L1300 346.79 L1301.5 347.03 L1303 346.78 L1304.5 347.06 L1306 347.07 L1307.5 346.81 L1309 346.96 L1310.5 347.04 L1312 345.96 L1313.5 347.08 L1315 346.82 L1316.5 346.85 L1318 346.89 L1319.5 346.85 L1321 347.07 L1322.5 346.78 L1324 346.99 L1325.5 346.88 L1327 346.81 L1328.5 346.99 L1330 346.73 L1331.5 346.73 L1333 346.72 L1334.5 346.79 L1336 346.71 L1337.5 347.08 L1339 346.88 L1340.5 347.02 L1342 346.87 L1343.5 347.01 L1345 347.08 L1346.5 346.82" fill="none" stroke="#FF3FA6" stroke-width="4.2" stroke-linejoin="round" stroke-linecap="butt"/>
<path d="M970.3 346 L970.3 109" stroke="#FF3FA6" stroke-width="4.4" stroke-linecap="round"/>
<path d="M966.8 347 L969 340 L971.6 340 L974 347 Z" fill="#FF3FA6"/>
<path d="M772 674 L773.5 674.28 L775 674.03 L776.5 674.38 L778 673.6 L779.5 674.12 L781 673.94 L782.5 673.39 L784 674.5 L785.5 674.43 L787 673.92 L788.5 672.46 L790 672.54 L791.5 673.97 L793 674.17 L794.5 674.11 L796 672.37 L797.5 674.04 L799 674.03 L800.5 674.44 L802 674.36 L803.5 673.17 L805 672.69 L806.5 674.43 L808 674.12 L809.5 674.13 L811 673.42 L812.5 674.33 L814 674.2 L815.5 674.23 L817 674.03 L818.5 674.23 L820 672.99 L821.5 674.46 L823 674.26 L824.5 672.39 L826 674.37 L827.5 674.31 L829 674.44 L830.5 674.14 L832 674.48 L833.5 674.43 L835 672.47 L836.5 672.43 L838 674.36 L839.5 673.49 L841 674.07 L842.5 673 L844 674.44 L845.5 674.35 L847 674.05 L848.5 674.22 L850 672.31 L851.5 674.38 L853 674.26 L854.5 674.25 L856 674.08 L857.5 674.07 L859 673.91 L860.5 673.16 L862 674.29 L863.5 673.16 L865 674.48 L866.5 673.27 L868 673.92 L869.5 673.98 L871 673.05 L872.5 674.09 L874 673.21 L875.5 674.13 L877 672.78 L878.5 674.42 L880 673.22 L881.5 673.94 L883 674.01 L884.5 674.05 L886 673.02 L887.5 674.09 L889 674.08 L890.5 674.23 L892 673.96 L893.5 674.2 L895 674.48 L896.5 674.32 L898 672.66 L899.5 674.49 L901 674.09 L902.5 673.28 L904 674.39 L905.5 674.17 L907 673.91 L908.5 674.17 L910 674.13 L911.5 672.91 L913 674.05 L914.5 674.39 L916 673.11 L917.5 674.19 L919 673.3 L920.5 674.2 L922 674.43 L923.5 674.28 L925 674.3 L926.5 674.32 L928 674.05 L929.5 674.13 L931 674.39 L932.9 674.4 L934.2 667.9 L935.5 674.4 L938.5 673.52 L940 674.09 L941.5 673.99 L943 673.95 L944.5 674.47 L946 672.43 L947.9 674.4 L949.2 667.3 L950.5 674.4 L953.5 673.32 L955 674.28 L956.5 674.06 L958 672.48 L959.5 673.99 L961 674.02 L962.5 673.71 L964 673.74 L965.5 673.08 L967 671.56 L968.5 670.51 L970 671.75 L971.5 671.93 L973 671.02 L974.5 670.67 L976 670.1 L977.5 669.28 L979 670.16 L980.5 668.68 L982 670.62 L983.5 669.18 L985 669.11 L986.5 670.95 L988 669.78 L989.5 670.69 L991 671.19 L992.5 669.36 L994 671.28 L995.5 671.28 L997 670.26 L998.5 671.34 L1000 671.09 L1001.5 671.61 L1003 670.82 L1004.5 671.47 L1006 671.92 L1007.5 669.95 L1009 671.96 L1010.5 672.11 L1012 670.47 L1013.5 670.91 L1015 672.18 L1016.5 672.02 L1018 670.64 L1019.5 672.5 L1021 670.93 L1022.5 672.64 L1024 672.69 L1025.5 672.42 L1027 672.79 L1028.5 672.28 L1030 672.68 L1031.5 672.8 L1033 672.48 L1034.5 672.74 L1036 672.57 L1037.5 672.81 L1039 672.96 L1040.5 671.67 L1042 672.68 L1043.5 673.09 L1045 671.6 L1046.5 671.6 L1048 671.09 L1049.5 673.02 L1051 672.15 L1052.5 673.01 L1054 673.24 L1055.5 672.07 L1057 673.05 L1058.5 673 L1060 671.55 L1061.5 673.23 L1063 673.34 L1064.5 673.51 L1066 671.78 L1067.5 673.3 L1069 672.7 L1070.5 673.43 L1072 672.25 L1073.5 673.51 L1075 673.31 L1076.5 673.43 L1078 673.48 L1079.5 673.53 L1081 673.24 L1082.5 673.58 L1084 673.23 L1085.5 672.69 L1087 671.92 L1088.5 673.31 L1090 672.49 L1091.5 673.47 L1093 673.32 L1094.5 673.4 L1096 672.66 L1097.5 673.25 L1099 671.82 L1100.5 672.16 L1102 673.6 L1103.5 673.55 L1105 673.49 L1106.5 673.65 L1108 673.49 L1109.5 673.67 L1111 672.06 L1112.5 673.31 L1114 672.28 L1115.5 672.48 L1117 673.42 L1118.5 673.53 L1120 672.64 L1121.5 673.44 L1123 673.13 L1124.5 672.59 L1126 672.38 L1127.5 672.8 L1129 672.89 L1130.5 673.73 L1132 673.7 L1133.5 673.4 L1135 673.59 L1136.5 673.62 L1138 673.43 L1139.5 673.95 L1141 672.06 L1142.5 673.48 L1144 673.9 L1145.5 672.75 L1147 673.84 L1148.5 673.68 L1150 672.78 L1151.5 673.65 L1153 672.94 L1154.5 673.53 L1156 672.69 L1157.5 673.99 L1159 673.89 L1160.5 673.77 L1162 672.51 L1163.5 673.67 L1165 673.61 L1166.5 673.12 L1168 673.63 L1169.5 673.71 L1171 673.65 L1172.5 673.78 L1174 673.83 L1175.5 673.69 L1177 674.02 L1178.5 673.82 L1180 674.07 L1181.5 673.62 L1183 674 L1184.5 674.12 L1186 673.69 L1187.5 673.74 L1189 673.06 L1190.5 673.01 L1192 674.03 L1193.5 674.01 L1195 674.09 L1196.5 674.06 L1198 673.87 L1199.5 673.88 L1201 673.97 L1202.5 673.22 L1204 673.21 L1205.5 673.64 L1207 672.68 L1208.5 673.65 L1210 673.77 L1211.5 674.02 L1213 673.83 L1214.5 673.67 L1216 674.02 L1217.5 672.84 L1219 673.79 L1220.5 673.1 L1222 674.17 L1223.5 673.99 L1225 673.78 L1226.5 673.62 L1228 673.72 L1229.5 672.19 L1231 673.73 L1232.5 673.96 L1234 674.14 L1235.5 673.73 L1237 673.69 L1238.5 672.96 L1240 673.87 L1241.5 674.15 L1243 673.09 L1244.5 673.83 L1246 674.17 L1247.5 673.7 L1249 674.2 L1250.5 674.07 L1252 673.77 L1253.5 674.24 L1255 672.75 L1256.5 673.95 L1258 673.76 L1259.5 673.74 L1261 673.13 L1262.5 673.75 L1264 672.31 L1265.5 674.25 L1267 674.02 L1268.5 674.04 L1270 673.94 L1271.5 672.27 L1273 672.12 L1274.5 673.78 L1276 672.85 L1277.5 672.77 L1279 672.87 L1280.5 673.83 L1282 673.86 L1283.5 674.09 L1285 674.16 L1286.5 673.88 L1288 674.14 L1289.5 674.15 L1291 672.85 L1292.5 674.29 L1294 672.78 L1295.5 673.86 L1297 673.96 L1298.5 672.22 L1300 674.09 L1301.5 672.02 L1303 673.83 L1304.5 674.13 L1306 674.05 L1307.5 673.07 L1309 673.97 L1310.5 672.69 L1312 673.03 L1313.5 672.54 L1315 674.32 L1316.5 674.1 L1318 674.02 L1319.5 673.23 L1321 673.95 L1322.5 672.57 L1324 673.48 L1325.5 673.93 L1327 673.87 L1328.5 673.84 L1330 674.17 L1331.5 673.79 L1333 674.25 L1334.5 674.25 L1336 673.84 L1337.5 674.23 L1339 672.94 L1340.5 674.1 L1342 674.01 L1343.5 674.32 L1345 672.93 L1346.5 672.85" fill="none" stroke="#223EFF" stroke-width="5.5" stroke-linejoin="round" stroke-linecap="butt"/>
<path d="M960.5 670.96 L961.5 663.84 L962.5 663.45 L963.5 662.82 L964.5 662.21 L965.5 661.61 L966.5 661.88 L967.5 661.67 L968.5 661.15 L969.5 660.71 L970.5 659.71 L971.5 660.72 L972.5 659.96 L973.5 660.15 L974.5 659.34 L975.5 659.52 L976.5 659.4 L977.5 658.9 L978.5 659.16 L979.5 659.57 L980.5 659.18 L981.5 659.54 L982.5 659.41 L983.5 660.07 L984.5 660.14 L985.5 660.65 L986.5 661.03 L987.5 661.12 L988.5 660.23 L989.5 661.25 L990.5 661.85 L991.5 661.77 L992.5 661.63 L993.5 661.96 L994.5 662.33 L995.5 662.5 L996.5 662.96 L997.5 662.74 L998.5 662.68 L999.5 663.42 L1000.5 663.43 L1001.5 663.27 L1002.5 663.79 L1003.5 663.8 L1004.5 663.17 L1005.5 664.09 L1006.5 664.42 L1007.5 663.91 L1008.5 664.48 L1009.5 664.6 L1010.5 664.6 L1011.5 664.74 L1012.5 664.77 L1013.5 665.12 L1014.5 665.27 L1015.5 665.16 L1016.5 665.26 L1017.5 665.23 L1018.5 665.32 L1019.5 665.8 L1020.5 665.12 L1021.5 665.85 L1022.5 666.09 L1023.5 666.07 L1024.5 665.85 L1025.5 666.36 L1026.5 666.45 L1027.5 666.34 L1028.5 666.6 L1029.5 666.67 L1030.5 666.29 L1031.5 666.74 L1032.5 666.54 L1033.5 666.07 L1034.5 667.01 L1035.5 666.88 L1036.5 666.55 L1037.5 667.28 L1038.5 667.15 L1039.5 667.38 L1040.5 666.84 L1041.5 667.06 L1042.5 667.1 L1043.5 667.54 L1044.5 667.33 L1045.5 667.76 L1046.5 666.92 L1047.5 666.98 L1048.5 667.83 L1049.5 667.97 L1050.5 667.31 L1051.5 667.54 L1052.5 668.02 L1053.5 667.96 L1054.5 667.91 L1055.5 667.54 L1056.5 668.01 L1057.5 668.06 L1058.5 667.79 L1059.5 667.84 L1060.5 667.55 L1061.5 668.31 L1062.5 667.72 L1063.5 668.22 L1064.5 667.73 L1065.5 668.21 L1066.5 668.7 L1067.5 668.07 L1068.5 667.79 L1069.5 668.73 L1070.5 668.27 L1071.5 668.3 L1072.5 668.87 L1073.5 668.71 L1074.5 668.87 L1075.5 668.33 L1076.5 668.72 L1077.5 668.9 L1078.5 668.61 L1079.5 667.97 L1080.5 668.1 L1081.5 668.66 L1082.5 669.09 L1083.5 668.56 L1084.5 668.48 L1085.5 669.24 L1086.5 668.1 L1087.5 669.26 L1088.5 668.38 L1089.5 668.78 L1090.5 669.27 L1091.5 669.15 L1092.5 669.32 L1093.5 669.42 L1094.5 669.29 L1095.5 668.62 L1096.5 669.47 L1097.5 669.28 L1098.5 668.95 L1099.5 668.9 L1100.5 669.53 L1101.5 668.6 L1102.5 668.8 L1103.5 669.47 L1104.5 669.61 L1105.5 669.6 L1106.5 668.7 L1107.5 669.67 L1108.5 669.4 L1109.5 669.44 L1110.5 669.45 L1111.5 669.45 L1112.5 669.48 L1113.5 669.31 L1114.5 669.5 L1115.5 669.73 L1116.5 669.56 L1117.5 669.7 L1118.5 669.72 L1119.5 669.73 L1120.5 669.68 L1121.5 669.79 L1122.5 669.74 L1123.5 669.35 L1124.5 669.27 L1125.5 669.8 L1126.5 669.98 L1127.5 669.89 L1128.5 669.61 L1129.5 669.81 L1130.5 669.79 L1131.5 669.76 L1132.5 669.73 L1133.5 669.18 L1134.5 669.54 L1135.5 670.07 L1136.5 669.8 L1137.5 669.84 L1138.5 670.07 L1139.5 669.79 L1140.5 669.87 L1141.5 670.08 L1142.5 669.71 L1143.5 670.12 L1144.5 669.2 L1145.5 669.31 L1146.5 669.44 L1147.5 669.23 L1148.5 669.78 L1149.5 669.44 L1150.5 669.89 L1151.5 670.16 L1152.5 670.1 L1153.5 669.7 L1154.5 670.16 L1155.5 669.82 L1156.5 670.16 L1157.5 670.17 L1158.5 670.09 L1159.5 670.1 L1160.5 670.01 L1161.5 669.36 L1162.5 669.52 L1163.5 669.97 L1164.5 670.2 L1165.5 669.59 L1166.5 669.8 L1167.5 670.01 L1168.5 670.33 L1169.5 669.67 L1170.5 669.56 L1171.5 670.15 L1172.5 669.96 L1173.5 670.26 L1174.5 669.75 L1175.5 669.95 L1176.5 670.27 L1177.5 670.17 L1178.5 670.18 L1179.5 670.42 L1180.5 670.06 L1181.5 670.11 L1182.5 670.26 L1183.5 670.04 L1184.5 670.5 L1185.5 670.29 L1186.5 670.12 L1187.5 670.08 L1188.5 669.62 L1189.5 669.91 L1190.5 670.35 L1191.5 670.46 L1192.5 669.46 L1193.5 669.45 L1194.5 670.08 L1195.5 670.22 L1196.5 670.09 L1197.5 670.15 L1198.5 670.19 L1199.5 669.05 L1200.5 670.02 L1201.5 670.59 L1202.5 670.39 L1203.5 670.05 L1204.5 670.24 L1205.5 670.53 L1206.5 669.57 L1207.5 670.36 L1208.5 670.62 L1209.5 670.28 L1210.5 670.33 L1211.5 669.74 L1212.5 670.37 L1213.5 669.8 L1214.5 669.76 L1215.5 670.25 L1216.5 670.59 L1217.5 670.39 L1218.5 669.82 L1219.5 670.42 L1220.5 670.7 L1221.5 670.04 L1222.5 669.92 L1223.5 669.89 L1224.5 670.59 L1225.5 670.54 L1226.5 670.32 L1227.5 670.66 L1228.5 670.37 L1229.5 670.64 L1230.5 670.44 L1231.5 670.12 L1232.5 670.09 L1233.5 670.13 L1234.5 670.44 L1235.5 670.15 L1236.5 670.54 L1237.5 670.46 L1238.5 670.14 L1239.5 670.22 L1240.5 670.7 L1241.5 670.74 L1242.5 670.78 L1243.5 670.64 L1244.5 670.44 L1245.5 670.61 L1246.5 670.39 L1247.5 670.53 L1248.5 670.37 L1249.5 670.81 L1250 674 L1245 674 L1240 674 L1235 674 L1230 674 L1225 674 L1220 674 L1215 674 L1210 674 L1205 674 L1200 674 L1195 674 L1190 674 L1185 674 L1180 674 L1175 674 L1170 674 L1165 674 L1160 674 L1155 674 L1150 674 L1145 674 L1140 674 L1135 674 L1130 674 L1125 674 L1120 674 L1115 674 L1110 674 L1105 674 L1100 674 L1095 674 L1090 674 L1085 674 L1080 674 L1075 674 L1070 674 L1065 674 L1060 674 L1055 674 L1050 674 L1045 674 L1040 674 L1035 674 L1030 674 L1025 674 L1020 674 L1015 674 L1010 674 L1005 674 L1000 674 L995 674 L990 674 L985 674 L980 674 L975 674 L970 674 L965 674 Z" fill="#223EFF" stroke="#223EFF" stroke-width="0.8" stroke-linejoin="round"/>
<path d="M958.25 675 L958.25 433.1" stroke="#223EFF" stroke-width="4.7" stroke-linecap="round"/>
<path d="M955.9 560 L960.6 540 L961.6 600 L962.4 655 L965 660 L964 670 L955.9 676 Z" fill="#223EFF"/>
<path d="M955.2 677.5 L956.2 668 L961.5 664 L962.5 677.5 Z" fill="#223EFF"/>
<text x="931.9" y="88.7" font-family='"Liberation Sans", sans-serif' font-size="36" fill="#FF3FA6">&#8199;&#8199;&#8199;3</text>
<path transform="translate(931.9 88.7) scale(36)" d="M0.3726 0L0.2847 0L0.2847 -0.5601Q0.2529 -0.5298 0.2026 -0.5002Q0.1523 -0.4707 0.1089 -0.4546L0.1089 -0.5396Q0.1826 -0.5742 0.2368 -0.6230Q0.2910 -0.6719 0.3149 -0.7158L0.3726 -0.7158Z" fill="#FF3FA6"/>
<path transform="translate(951.92 88.7) scale(36)" d="M0.3726 0L0.2847 0L0.2847 -0.5601Q0.2529 -0.5298 0.2026 -0.5002Q0.1523 -0.4707 0.1089 -0.4546L0.1089 -0.5396Q0.1826 -0.5742 0.2368 -0.6230Q0.2910 -0.6719 0.3149 -0.7158L0.3726 -0.7158Z" fill="#FF3FA6"/>
<path transform="translate(971.94 88.7) scale(36)" d="M0.3726 0L0.2847 0L0.2847 -0.5601Q0.2529 -0.5298 0.2026 -0.5002Q0.1523 -0.4707 0.1089 -0.4546L0.1089 -0.5396Q0.1826 -0.5742 0.2368 -0.6230Q0.2910 -0.6719 0.3149 -0.7158L0.3726 -0.7158Z" fill="#FF3FA6"/>
<text x="921.2" y="416.9" font-family='"Liberation Sans", sans-serif' font-size="36" fill="#223EFF">&#8199;089</text>
<path transform="translate(921.2 416.9) scale(36)" d="M0.3726 0L0.2847 0L0.2847 -0.5601Q0.2529 -0.5298 0.2026 -0.5002Q0.1523 -0.4707 0.1089 -0.4546L0.1089 -0.5396Q0.1826 -0.5742 0.2368 -0.6230Q0.2910 -0.6719 0.3149 -0.7158L0.3726 -0.7158Z" fill="#223EFF"/>
<text x="783.4" y="282.1" font-family='"Liberation Sans", sans-serif' font-size="32" fill="#FF3FA6">VSc<tspan font-size="21.5" dy="8.7">2</tspan><tspan dy="-8.7">C@C</tspan><tspan font-size="21.5" dy="8.7">80</tspan></text>
<text x="879.5" y="328.1" font-family='"Liberation Serif", serif' font-size="32" font-weight="normal" fill="#FF3FA6" text-anchor="middle" >(II)</text>
<text x="780.3" y="645.7" font-family='"Liberation Sans", sans-serif' font-size="32" fill="#223EFF">VSc<tspan font-size="21.5" dy="8.7">2</tspan><tspan dy="-8.7">C@C</tspan><tspan font-size="21.5" dy="8.7">78</tspan></text>
<path d="M1006.9 181.2 L1007.4 181.2 L1007.9 181.2 L1008.4 181.2 L1008.9 181.2 L1009.4 181.2 L1009.9 181.2 L1010.4 181.2 L1010.9 181.2 L1011.4 181.2 L1011.9 181.2 L1012.4 181.2 L1012.9 181.2 L1013.4 181.2 L1013.9 181.2 L1014.4 181.2 L1014.9 181.2 L1015.4 181.2 L1015.9 181.2 L1016.4 181.2 L1016.9 181.2 L1017.4 181.2 L1017.9 181.2 L1018.4 181.2 L1018.9 181.2 L1019.4 181.2 L1019.9 181.2 L1020.4 181.2 L1020.9 181.2 L1021.4 181.2 L1021.9 181.2 L1022.4 181.2 L1022.9 181.2 L1023.4 181.2 L1023.9 181.2 L1024.4 181.2 L1024.9 181.2 L1025.4 181.2 L1025.9 181.2 L1026.4 181.2 L1026.9 181.2 L1027.4 181.2 L1027.9 181.2 L1028.4 181.2 L1028.9 181.2 L1029.4 181.2 L1029.9 181.2 L1030.4 181.2 L1030.9 181.2 L1031.4 181.2 L1031.9 181.2 L1032.4 181.2 L1032.9 181.2 L1033.4 181.2 L1033.9 181.2 L1034.4 181.2 L1034.9 181.2 L1035.4 181.2 L1035.9 181.2 L1036.4 181.2 L1036.9 181.2 L1037.4 181.2 L1037.9 181.2 L1038.4 181.2 L1038.9 181.2 L1039.4 181.2 L1039.9 181.2 L1040.4 181.2 L1040.9 181.2 L1041.4 181.2 L1041.9 181.2 L1042.4 181.2 L1042.9 181.2 L1043.4 181.2 L1043.9 181.2 L1044.4 181.2 L1044.9 181.2 L1045.4 181.2 L1045.9 181.2 L1046.4 181.2 L1046.9 181.2 L1047.4 181.2 L1047.9 181.2 L1048.4 181.2 L1048.9 181.2 L1049.4 181.2 L1049.9 181.2 L1050.4 181.2 L1050.9 181.2 L1051.4 181.2 L1051.9 181.2 L1052.4 181.2 L1052.9 181.2 L1053.4 181.2 L1053.9 181.2 L1054.4 181.2 L1054.9 181.2 L1055.4 181.2 L1055.9 181.2 L1056.4 181.2 L1056.9 181.2 L1057.4 181.2 L1057.9 181.2 L1058.4 181.2 L1058.9 181.2 L1059.4 181.2 L1059.9 181.2 L1060.4 181.2 L1060.9 181.2 L1061.4 181.2 L1061.9 181.2 L1062.4 181.2 L1062.9 181.19 L1063.4 181.19 L1063.9 181.19 L1064.4 181.18 L1064.9 181.17 L1065.4 181.16 L1065.9 181.14 L1066.4 181.12 L1066.9 181.08 L1067.4 181.03 L1067.9 180.97 L1068.4 180.88 L1068.9 180.76 L1069.4 180.6 L1069.9 180.39 L1070.4 180.12 L1070.9 179.77 L1071.4 179.33 L1071.9 178.77 L1072.4 178.06 L1072.9 177.19 L1073.4 176.13 L1073.9 174.84 L1074.4 173.29 L1074.9 171.45 L1075.4 169.28 L1075.9 166.77 L1076.4 163.88 L1076.9 160.6 L1077.4 156.91 L1077.9 152.82 L1078.4 148.33 L1078.9 143.47 L1079.4 138.27 L1079.9 132.79 L1080.4 127.09 L1080.9 121.26 L1081.4 115.39 L1081.9 109.58 L1082.4 103.95 L1082.9 98.62 L1083.4 93.7 L1083.9 89.31 L1084.4 85.56 L1084.9 82.53 L1085.4 80.31 L1085.9 78.96 L1086.4 78.5 L1086.9 78.96 L1087.4 80.31 L1087.9 82.53 L1088.4 85.56 L1088.9 89.31 L1089.4 93.7 L1089.9 98.62 L1090.4 103.95 L1090.9 109.58 L1091.4 115.39 L1091.9 121.26 L1092.4 127.09 L1092.9 132.79 L1093.4 138.27 L1093.9 143.47 L1094.4 148.33 L1094.9 152.82 L1095.4 156.91 L1095.9 160.6 L1096.4 163.88 L1096.9 166.77 L1097.4 169.28 L1097.9 171.45 L1098.4 173.29 L1098.9 174.84 L1099.4 176.13 L1099.9 177.19 L1100.4 178.06 L1100.9 178.77 L1101.4 179.33 L1101.9 179.77 L1102.4 180.12 L1102.9 180.39 L1103.4 180.6 L1103.9 180.76 L1104.4 180.88 L1104.9 180.97 L1105.4 181.03 L1105.9 181.08 L1106.4 181.12 L1106.9 181.14 L1107.4 181.16 L1107.9 181.17 L1108.4 181.18 L1108.9 181.19 L1109.4 181.19 L1109.9 181.19 L1110.4 181.2 L1110.9 181.2 L1111.4 181.2 L1111.9 181.2 L1112.4 181.2 L1112.9 181.2 L1113.4 181.2 L1113.9 181.2 L1114.4 181.2 L1114.9 181.2 L1115.4 181.2 L1115.9 181.2 L1116.4 181.2 L1116.9 181.2 L1117.4 181.2 L1117.9 181.2 L1118.4 181.2 L1118.9 181.2 L1119.4 181.2 L1119.9 181.2 L1120.4 181.2 L1120.9 181.19 L1121.4 181.19 L1121.9 181.18 L1122.4 181.18 L1122.9 181.17 L1123.4 181.15 L1123.9 181.13 L1124.4 181.1 L1124.9 181.06 L1125.4 181.01 L1125.9 180.94 L1126.4 180.84 L1126.9 180.71 L1127.4 180.54 L1127.9 180.31 L1128.4 180.02 L1128.9 179.65 L1129.4 179.18 L1129.9 178.59 L1130.4 177.87 L1130.9 176.97 L1131.4 175.88 L1131.9 174.58 L1132.4 173.02 L1132.9 171.19 L1133.4 169.06 L1133.9 166.6 L1134.4 163.81 L1134.9 160.66 L1135.4 157.15 L1135.9 153.3 L1136.4 149.12 L1136.9 144.63 L1137.4 139.89 L1137.9 134.95 L1138.4 129.87 L1138.9 124.74 L1139.4 119.65 L1139.9 114.7 L1140.4 109.98 L1140.9 105.6 L1141.4 101.67 L1141.9 98.27 L1142.4 95.5 L1142.9 93.41 L1143.4 92.07 L1143.9 91.52 L1144.4 91.76 L1144.9 92.78 L1145.4 94.58 L1145.9 97.08 L1146.4 100.24 L1146.9 103.97 L1147.4 108.18 L1147.9 112.78 L1148.4 117.65 L1148.9 122.7 L1149.4 127.82 L1149.9 132.93 L1150.4 137.93 L1150.9 142.76 L1151.4 147.36 L1151.9 151.66 L1152.4 155.65 L1152.9 159.3 L1153.4 162.59 L1153.9 165.53 L1154.4 168.12 L1154.9 170.38 L1155.4 172.33 L1155.9 173.99 L1156.4 175.39 L1156.9 176.56 L1157.4 177.53 L1157.9 178.32 L1158.4 178.96 L1158.9 179.48 L1159.4 179.88 L1159.9 180.2 L1160.4 180.45 L1160.9 180.64 L1161.4 180.79 L1161.9 180.9 L1162.4 180.98 L1162.9 181.04 L1163.4 181.09 L1163.9 181.12 L1164.4 181.15 L1164.9 181.16 L1165.4 181.17 L1165.9 181.18 L1166.4 181.19 L1166.9 181.19 L1167.4 181.19 L1167.9 181.2 L1168.4 181.2 L1168.9 181.2 L1169.4 181.2 L1169.9 181.2 L1170.4 181.2 L1170.9 181.2 L1171.4 181.2 L1171.9 181.2 L1172.4 181.2 L1172.9 181.2 L1173.4 181.2 L1173.9 181.2 L1174.4 181.2 L1174.9 181.2 L1175.4 181.2 L1175.9 181.2 L1176.4 181.2 L1176.9 181.2 L1177.4 181.2 L1177.9 181.2 L1178.4 181.2 L1178.9 181.2 L1179.4 181.19 L1179.9 181.19 L1180.4 181.19 L1180.9 181.18 L1181.4 181.18 L1181.9 181.17 L1182.4 181.15 L1182.9 181.13 L1183.4 181.11 L1183.9 181.07 L1184.4 181.02 L1184.9 180.96 L1185.4 180.88 L1185.9 180.77 L1186.4 180.63 L1186.9 180.46 L1187.4 180.24 L1187.9 179.96 L1188.4 179.62 L1188.9 179.2 L1189.4 178.7 L1189.9 178.1 L1190.4 177.38 L1190.9 176.54 L1191.4 175.57 L1191.9 174.46 L1192.4 173.19 L1192.9 171.78 L1193.4 170.21 L1193.9 168.49 L1194.4 166.64 L1194.9 164.66 L1195.4 162.58 L1195.9 160.43 L1196.4 158.23 L1196.9 156.02 L1197.4 153.85 L1197.9 151.76 L1198.4 149.78 L1198.9 147.97 L1199.4 146.36 L1199.9 145 L1200.4 143.92 L1200.9 143.15 L1201.4 142.71 L1201.9 142.61 L1202.4 142.85 L1202.9 143.42 L1203.4 144.32 L1203.9 145.51 L1204.4 146.98 L1204.9 148.67 L1205.4 150.55 L1205.9 152.58 L1206.4 154.71 L1206.9 156.9 L1207.4 159.11 L1207.9 161.3 L1208.4 163.42 L1208.9 165.46 L1209.4 167.39 L1209.9 169.19 L1210.4 170.85 L1210.9 172.36 L1211.4 173.72 L1211.9 174.92 L1212.4 175.98 L1212.9 176.89 L1213.4 177.68 L1213.9 178.35 L1214.4 178.91 L1214.9 179.38 L1215.4 179.77 L1215.9 180.08 L1216.4 180.33 L1216.9 180.53 L1217.4 180.69 L1217.9 180.82 L1218.4 180.91 L1218.9 180.99 L1219.4 181.04 L1219.9 181.09 L1220.4 181.12 L1220.9 181.14 L1221.4 181.16 L1221.9 181.17 L1222.4 181.18 L1222.9 181.19 L1223.4 181.19 L1223.9 181.19 L1224.4 181.2 L1224.9 181.2 L1225.4 181.2 L1225.9 181.2 L1226.4 181.2 L1226.9 181.2 L1227.4 181.2 L1227.9 181.2 L1228.4 181.2 L1228.9 181.2 L1229.4 181.2 L1229.9 181.2 L1230.4 181.2 L1230.9 181.2 L1231.4 181.2 L1231.9 181.2 L1232.4 181.2 L1232.9 181.2 L1233.4 181.2 L1233.9 181.2 L1234.4 181.2 L1234.9 181.2 L1235.4 181.2 L1235.9 181.2 L1236.4 181.2 L1236.9 181.2 L1237.4 181.2 L1237.9 181.2 L1238.4 181.2 L1238.9 181.19 L1239.4 181.19 L1239.9 181.19 L1240.4 181.19 L1240.9 181.18 L1241.4 181.17 L1241.9 181.16 L1242.4 181.15 L1242.9 181.13 L1243.4 181.1 L1243.9 181.07 L1244.4 181.03 L1244.9 180.97 L1245.4 180.91 L1245.9 180.82 L1246.4 180.72 L1246.9 180.6 L1247.4 180.45 L1247.9 180.27 L1248.4 180.06 L1248.9 179.82 L1249.4 179.54 L1249.9 179.21 L1250.4 178.85 L1250.9 178.44 L1251.4 178 L1251.9 177.51 L1252.4 176.99 L1252.9 176.43 L1253.4 175.85 L1253.9 175.26 L1254.4 174.65 L1254.9 174.05 L1255.4 173.46 L1255.9 172.89 L1256.4 172.37 L1256.9 171.89 L1257.4 171.47 L1257.9 171.13 L1258.4 170.87 L1258.9 170.69 L1259.4 170.61 L1259.9 170.62 L1260.4 170.72 L1260.9 170.91 L1261.4 171.19 L1261.9 171.55 L1262.4 171.98 L1262.9 172.47 L1263.4 173 L1263.9 173.57 L1264.4 174.17 L1264.9 174.77 L1265.4 175.38 L1265.9 175.97 L1266.4 176.55 L1266.9 177.09 L1267.4 177.61 L1267.9 178.09 L1268.4 178.53 L1268.9 178.93 L1269.4 179.28 L1269.9 179.6 L1270.4 179.87 L1270.9 180.11 L1271.4 180.31 L1271.9 180.48 L1272.4 180.63 L1272.9 180.75 L1273.4 180.84 L1273.9 180.92 L1274.4 180.99 L1274.9 181.04 L1275.4 181.08 L1275.9 181.11 L1276.4 181.13 L1276.9 181.15 L1277.4 181.16 L1277.9 181.17 L1278.4 181.18 L1278.9 181.19 L1279.4 181.19 L1279.9 181.19 L1280.4 181.2 L1280.9 181.2 L1281.4 181.2 L1281.9 181.2 L1282.4 181.2 L1282.9 181.2 L1283.4 181.2 L1283.9 181.2 L1284.4 181.2 L1284.9 181.2 L1285.4 181.2 L1285.9 181.2 L1286.4 181.2 L1286.9 181.2 L1287.4 181.2 L1287.9 181.2 L1288.4 181.2 L1288.9 181.2 L1289.4 181.2 L1289.9 181.2 L1290.4 181.2 L1290.9 181.2 L1291.4 181.2 L1291.9 181.2 L1292.4 181.2 L1292.9 181.2 L1293.4 181.2 L1293.9 181.2 L1294.4 181.2 L1294.9 181.2 L1295.4 181.2 L1295.9 181.2 L1296.4 181.2 L1296.9 181.2 L1297.4 181.2 L1297.9 181.2 L1298.4 181.2 L1298.9 181.2 L1299.4 181.2 L1299.9 181.2 L1300.4 181.2 L1300.9 181.2 L1301.4 181.2 L1301.9 181.2 L1302.4 181.2 L1302.9 181.2 L1303.4 181.2 L1303.9 181.2 L1304.4 181.2 L1304.9 181.2 L1305.4 181.2 L1305.9 181.2 L1306.4 181.2" fill="none" stroke="#000" stroke-width="2.8" stroke-linejoin="round"/>
<path d="M1007.5 296.9 L1008 296.9 L1008.5 296.89 L1009 296.89 L1009.5 296.89 L1010 296.88 L1010.5 296.88 L1011 296.88 L1011.5 296.87 L1012 296.87 L1012.5 296.87 L1013 296.86 L1013.5 296.86 L1014 296.86 L1014.5 296.85 L1015 296.85 L1015.5 296.85 L1016 296.84 L1016.5 296.84 L1017 296.84 L1017.5 296.83 L1018 296.83 L1018.5 296.83 L1019 296.82 L1019.5 296.82 L1020 296.82 L1020.5 296.81 L1021 296.81 L1021.5 296.81 L1022 296.8 L1022.5 296.8 L1023 296.8 L1023.5 296.79 L1024 296.79 L1024.5 296.79 L1025 296.78 L1025.5 296.78 L1026 296.78 L1026.5 296.77 L1027 296.77 L1027.5 296.76 L1028 296.76 L1028.5 296.76 L1029 296.75 L1029.5 296.75 L1030 296.74 L1030.5 296.74 L1031 296.74 L1031.5 296.73 L1032 296.73 L1032.5 296.72 L1033 296.72 L1033.5 296.71 L1034 296.71 L1034.5 296.7 L1035 296.7 L1035.5 296.69 L1036 296.69 L1036.5 296.68 L1037 296.68 L1037.5 296.67 L1038 296.67 L1038.5 296.66 L1039 296.66 L1039.5 296.66 L1040 296.65 L1040.5 296.65 L1041 296.64 L1041.5 296.64 L1042 296.63 L1042.5 296.63 L1043 296.62 L1043.5 296.62 L1044 296.61 L1044.5 296.61 L1045 296.6 L1045.5 296.6 L1046 296.59 L1046.5 296.58 L1047 296.58 L1047.5 296.57 L1048 296.56 L1048.5 296.56 L1049 296.55 L1049.5 296.54 L1050 296.53 L1050.5 296.52 L1051 296.51 L1051.5 296.5 L1052 296.49 L1052.5 296.48 L1053 296.47 L1053.5 296.45 L1054 296.44 L1054.5 296.43 L1055 296.41 L1055.5 296.4 L1056 296.38 L1056.5 296.37 L1057 296.35 L1057.5 296.33 L1058 296.31 L1058.5 296.29 L1059 296.23 L1059.5 296.14 L1060 296.02 L1060.5 295.87 L1061 295.69 L1061.5 295.49 L1062 295.26 L1062.5 295.02 L1063 294.77 L1063.5 294.5 L1064 294.23 L1064.5 293.95 L1065 293.67 L1065.5 293.39 L1066 293.09 L1066.5 292.77 L1067 292.42 L1067.5 292.05 L1068 291.64 L1068.5 291.2 L1069 290.72 L1069.5 290.19 L1070 289.62 L1070.5 289 L1071 288.31 L1071.5 287.47 L1072 286.46 L1072.5 285.29 L1073 283.98 L1073.5 282.53 L1074 280.96 L1074.5 279.28 L1075 277.5 L1075.5 275.46 L1076 273.03 L1076.5 270.28 L1077 267.3 L1077.5 264.14 L1078 260.87 L1078.5 257.27 L1079 253.34 L1079.5 249.14 L1080 244.68 L1080.5 239.71 L1081 234.32 L1081.5 228.88 L1082 223.68 L1082.5 218.27 L1083 212.93 L1083.5 208.41 L1084 205.19 L1084.5 202.31 L1085 200.21 L1085.5 199.63 L1086 200.63 L1086.5 202.68 L1087 205.33 L1087.5 208.1 L1088 211.33 L1088.5 215.36 L1089 219.71 L1089.5 223.92 L1090 227.83 L1090.5 231.81 L1091 235.76 L1091.5 239.56 L1092 243.07 L1092.5 246.19 L1093 249.04 L1093.5 251.72 L1094 254.25 L1094.5 256.63 L1095 258.87 L1095.5 260.99 L1096 262.99 L1096.5 264.92 L1097 266.77 L1097.5 268.55 L1098 270.25 L1098.5 271.86 L1099 273.38 L1099.5 274.79 L1100 276.1 L1100.5 277.34 L1101 278.55 L1101.5 279.72 L1102 280.85 L1102.5 281.93 L1103 282.95 L1103.5 283.92 L1104 284.82 L1104.5 285.65 L1105 286.4 L1105.5 287.08 L1106 287.68 L1106.5 288.25 L1107 288.79 L1107.5 289.3 L1108 289.78 L1108.5 290.23 L1109 290.65 L1109.5 291.04 L1110 291.4 L1110.5 291.74 L1111 292.04 L1111.5 292.33 L1112 292.63 L1112.5 292.93 L1113 293.21 L1113.5 293.48 L1114 293.71 L1114.5 293.91 L1115 294.07 L1115.5 294.17 L1116 294.2 L1116.5 294.16 L1117 294.06 L1117.5 293.9 L1118 293.68 L1118.5 293.42 L1119 293.12 L1119.5 292.78 L1120 292.42 L1120.5 292.04 L1121 291.65 L1121.5 291.25 L1122 290.86 L1122.5 290.46 L1123 290.02 L1123.5 289.54 L1124 289.02 L1124.5 288.44 L1125 287.82 L1125.5 287.15 L1126 286.42 L1126.5 285.64 L1127 284.75 L1127.5 283.72 L1128 282.59 L1128.5 281.35 L1129 280.02 L1129.5 278.62 L1130 277.15 L1130.5 275.64 L1131 274.09 L1131.5 272.5 L1132 270.84 L1132.5 269.09 L1133 267.23 L1133.5 265.27 L1134 263.19 L1134.5 260.99 L1135 258.66 L1135.5 256.19 L1136 253.43 L1136.5 250.36 L1137 247.06 L1137.5 243.59 L1138 240.03 L1138.5 236.23 L1139 231.69 L1139.5 227.12 L1140 223.39 L1140.5 221.15 L1141 219.44 L1141.5 218.41 L1142 218.45 L1142.5 219.3 L1143 220.72 L1143.5 222.52 L1144 224.51 L1144.5 226.5 L1145 228.93 L1145.5 231.87 L1146 235.11 L1146.5 238.43 L1147 241.62 L1147.5 244.56 L1148 247.58 L1148.5 250.64 L1149 253.64 L1149.5 256.5 L1150 259.11 L1150.5 261.4 L1151 263.32 L1151.5 265.05 L1152 266.64 L1152.5 268.11 L1153 269.5 L1153.5 270.81 L1154 272.08 L1154.5 273.32 L1155 274.57 L1155.5 275.84 L1156 277.16 L1156.5 278.53 L1157 279.91 L1157.5 281.27 L1158 282.56 L1158.5 283.76 L1159 284.82 L1159.5 285.7 L1160 286.41 L1160.5 287.06 L1161 287.66 L1161.5 288.21 L1162 288.71 L1162.5 289.17 L1163 289.58 L1163.5 289.95 L1164 290.28 L1164.5 290.57 L1165 290.86 L1165.5 291.14 L1166 291.42 L1166.5 291.69 L1167 291.96 L1167.5 292.21 L1168 292.45 L1168.5 292.68 L1169 292.89 L1169.5 293.08 L1170 293.26 L1170.5 293.41 L1171 293.54 L1171.5 293.65 L1172 293.73 L1172.5 293.78 L1173 293.8 L1173.5 293.79 L1174 293.74 L1174.5 293.66 L1175 293.55 L1175.5 293.42 L1176 293.26 L1176.5 293.08 L1177 292.87 L1177.5 292.66 L1178 292.42 L1178.5 292.18 L1179 291.93 L1179.5 291.67 L1180 291.41 L1180.5 291.15 L1181 290.9 L1181.5 290.64 L1182 290.4 L1182.5 290.16 L1183 289.92 L1183.5 289.68 L1184 289.43 L1184.5 289.18 L1185 288.92 L1185.5 288.64 L1186 288.36 L1186.5 288.06 L1187 287.74 L1187.5 287.41 L1188 287.05 L1188.5 286.68 L1189 286.27 L1189.5 285.85 L1190 285.39 L1190.5 284.89 L1191 284.27 L1191.5 283.51 L1192 282.66 L1192.5 281.72 L1193 280.74 L1193.5 279.73 L1194 278.72 L1194.5 277.73 L1195 276.8 L1195.5 275.79 L1196 274.62 L1196.5 273.4 L1197 272.24 L1197.5 271.25 L1198 270.54 L1198.5 270.21 L1199 270.3 L1199.5 270.69 L1200 271.3 L1200.5 272.08 L1201 272.96 L1201.5 273.9 L1202 274.82 L1202.5 275.8 L1203 277.02 L1203.5 278.39 L1204 279.82 L1204.5 281.22 L1205 282.5 L1205.5 283.56 L1206 284.37 L1206.5 285.13 L1207 285.86 L1207.5 286.56 L1208 287.23 L1208.5 287.87 L1209 288.47 L1209.5 289.03 L1210 289.55 L1210.5 290.03 L1211 290.46 L1211.5 290.84 L1212 291.18 L1212.5 291.46 L1213 291.69 L1213.5 291.9 L1214 292.12 L1214.5 292.32 L1215 292.53 L1215.5 292.72 L1216 292.91 L1216.5 293.1 L1217 293.28 L1217.5 293.45 L1218 293.62 L1218.5 293.78 L1219 293.93 L1219.5 294.07 L1220 294.21 L1220.5 294.34 L1221 294.46 L1221.5 294.57 L1222 294.68 L1222.5 294.77 L1223 294.86 L1223.5 294.94 L1224 295.01 L1224.5 295.06 L1225 295.11 L1225.5 295.15 L1226 295.18 L1226.5 295.19 L1227 295.2 L1227.5 295.2 L1228 295.2 L1228.5 295.2 L1229 295.2 L1229.5 295.2 L1230 295.2 L1230.5 295.2 L1231 295.2 L1231.5 295.2 L1232 295.2 L1232.5 295.2 L1233 295.2 L1233.5 295.2 L1234 295.2 L1234.5 295.2 L1235 295.2 L1235.5 295.2 L1236 295.2 L1236.5 295.2 L1237 295.2 L1237.5 295.2 L1238 295.2 L1238.5 295.2 L1239 295.2 L1239.5 295.2 L1240 295.2 L1240.5 295.2 L1241 295.19 L1241.5 295.17 L1242 295.15 L1242.5 295.13 L1243 295.1 L1243.5 295.07 L1244 295.03 L1244.5 294.99 L1245 294.94 L1245.5 294.89 L1246 294.84 L1246.5 294.78 L1247 294.72 L1247.5 294.66 L1248 294.6 L1248.5 294.53 L1249 294.47 L1249.5 294.4 L1250 294.31 L1250.5 294.17 L1251 294 L1251.5 293.81 L1252 293.61 L1252.5 293.4 L1253 293.19 L1253.5 293.01 L1254 292.84 L1254.5 292.71 L1255 292.63 L1255.5 292.6 L1256 292.61 L1256.5 292.63 L1257 292.65 L1257.5 292.69 L1258 292.74 L1258.5 292.79 L1259 292.85 L1259.5 292.91 L1260 292.97 L1260.5 293.05 L1261 293.15 L1261.5 293.29 L1262 293.45 L1262.5 293.64 L1263 293.84 L1263.5 294.06 L1264 294.28 L1264.5 294.51 L1265 294.73 L1265.5 294.94 L1266 295.15 L1266.5 295.33 L1267 295.49 L1267.5 295.63 L1268 295.73 L1268.5 295.8 L1269 295.84 L1269.5 295.89 L1270 295.93 L1270.5 295.97 L1271 296.01 L1271.5 296.04 L1272 296.07 L1272.5 296.11 L1273 296.14 L1273.5 296.17 L1274 296.19 L1274.5 296.22 L1275 296.24 L1275.5 296.26 L1276 296.28 L1276.5 296.3 L1277 296.32 L1277.5 296.34 L1278 296.35 L1278.5 296.36 L1279 296.37 L1279.5 296.38 L1280 296.39 L1280.5 296.4 L1281 296.41 L1281.5 296.42 L1282 296.42 L1282.5 296.43 L1283 296.43 L1283.5 296.44 L1284 296.45 L1284.5 296.45 L1285 296.46 L1285.5 296.46 L1286 296.47 L1286.5 296.47 L1287 296.48 L1287.5 296.48 L1288 296.49 L1288.5 296.49 L1289 296.49 L1289.5 296.5 L1290 296.5 L1290.5 296.5 L1291 296.51 L1291.5 296.51 L1292 296.51 L1292.5 296.52 L1293 296.52 L1293.5 296.52 L1294 296.53 L1294.5 296.53 L1295 296.53 L1295.5 296.53 L1296 296.54 L1296.5 296.54 L1297 296.54 L1297.5 296.55 L1298 296.55 L1298.5 296.55 L1299 296.55 L1299.5 296.56 L1300 296.56 L1300.5 296.56 L1301 296.56 L1301.5 296.57 L1302 296.57 L1302.5 296.57 L1303 296.58 L1303.5 296.58 L1304 296.58 L1304.5 296.59 L1305 296.59 L1305.5 296.59 L1306 296.6" fill="none" stroke="#FF3FA6" stroke-width="2.9" stroke-linejoin="round"/>
<path d="M1005.3 312.4 H1308.2" stroke="#000" stroke-width="3"/>
<path d="M1029.4 312.4 V316.2 M1084.8 312.4 V316.2 M1140.2 312.4 V316.2 M1195.6 312.4 V316.2 M1251 312.4 V316.2 M1306.4 312.4 V316.2" stroke="#000" stroke-width="2.6"/>
<text x="1029.4" y="336.1" font-family='"Liberation Serif", serif' font-size="24" font-weight="bold" fill="#000" text-anchor="middle" >1112</text>
<text x="1084.8" y="336.1" font-family='"Liberation Serif", serif' font-size="24" font-weight="bold" fill="#000" text-anchor="middle" >1113</text>
<text x="1140.2" y="336.1" font-family='"Liberation Serif", serif' font-size="24" font-weight="bold" fill="#000" text-anchor="middle" >1114</text>
<text x="1195.6" y="336.1" font-family='"Liberation Serif", serif' font-size="24" font-weight="bold" fill="#000" text-anchor="middle" >1115</text>
<text x="1251" y="336.1" font-family='"Liberation Serif", serif' font-size="24" font-weight="bold" fill="#000" text-anchor="middle" >1116</text>
<text x="1306.4" y="336.1" font-family='"Liberation Serif", serif' font-size="24" font-weight="bold" fill="#000" text-anchor="middle" >1117</text>
<text x="1170.5" y="86.3" font-family='"Liberation Sans", sans-serif' font-size="29.6" font-weight="bold" fill="#000" text-anchor="start" textLength="156" lengthAdjust="spacingAndGlyphs">Calculated</text>
<text x="1171.8" y="225.3" font-family='"Liberation Sans", sans-serif' font-size="29.6" font-weight="bold" fill="#FF3FA6" text-anchor="start" textLength="144.6" lengthAdjust="spacingAndGlyphs">Measured</text>
<path d="M1003 490.6 L1003.5 490.6 L1004 490.6 L1004.5 490.6 L1005 490.6 L1005.5 490.6 L1006 490.6 L1006.5 490.6 L1007 490.6 L1007.5 490.6 L1008 490.6 L1008.5 490.6 L1009 490.6 L1009.5 490.6 L1010 490.6 L1010.5 490.6 L1011 490.6 L1011.5 490.6 L1012 490.6 L1012.5 490.6 L1013 490.6 L1013.5 490.6 L1014 490.6 L1014.5 490.6 L1015 490.6 L1015.5 490.6 L1016 490.6 L1016.5 490.6 L1017 490.6 L1017.5 490.6 L1018 490.6 L1018.5 490.6 L1019 490.6 L1019.5 490.6 L1020 490.6 L1020.5 490.6 L1021 490.6 L1021.5 490.6 L1022 490.6 L1022.5 490.6 L1023 490.6 L1023.5 490.6 L1024 490.6 L1024.5 490.6 L1025 490.6 L1025.5 490.6 L1026 490.6 L1026.5 490.6 L1027 490.6 L1027.5 490.6 L1028 490.6 L1028.5 490.6 L1029 490.6 L1029.5 490.6 L1030 490.6 L1030.5 490.6 L1031 490.6 L1031.5 490.6 L1032 490.6 L1032.5 490.6 L1033 490.6 L1033.5 490.6 L1034 490.6 L1034.5 490.6 L1035 490.6 L1035.5 490.6 L1036 490.6 L1036.5 490.6 L1037 490.6 L1037.5 490.6 L1038 490.6 L1038.5 490.6 L1039 490.6 L1039.5 490.6 L1040 490.6 L1040.5 490.6 L1041 490.6 L1041.5 490.6 L1042 490.6 L1042.5 490.6 L1043 490.6 L1043.5 490.6 L1044 490.6 L1044.5 490.6 L1045 490.6 L1045.5 490.6 L1046 490.6 L1046.5 490.6 L1047 490.6 L1047.5 490.6 L1048 490.6 L1048.5 490.6 L1049 490.6 L1049.5 490.6 L1050 490.6 L1050.5 490.6 L1051 490.6 L1051.5 490.6 L1052 490.6 L1052.5 490.6 L1053 490.6 L1053.5 490.6 L1054 490.6 L1054.5 490.6 L1055 490.6 L1055.5 490.6 L1056 490.6 L1056.5 490.6 L1057 490.6 L1057.5 490.6 L1058 490.6 L1058.5 490.6 L1059 490.6 L1059.5 490.6 L1060 490.6 L1060.5 490.6 L1061 490.6 L1061.5 490.6 L1062 490.6 L1062.5 490.6 L1063 490.6 L1063.5 490.6 L1064 490.6 L1064.5 490.6 L1065 490.6 L1065.5 490.6 L1066 490.6 L1066.5 490.6 L1067 490.6 L1067.5 490.6 L1068 490.6 L1068.5 490.59 L1069 490.59 L1069.5 490.59 L1070 490.58 L1070.5 490.57 L1071 490.56 L1071.5 490.54 L1072 490.51 L1072.5 490.48 L1073 490.43 L1073.5 490.36 L1074 490.27 L1074.5 490.15 L1075 489.99 L1075.5 489.78 L1076 489.5 L1076.5 489.15 L1077 488.7 L1077.5 488.14 L1078 487.44 L1078.5 486.57 L1079 485.5 L1079.5 484.21 L1080 482.67 L1080.5 480.84 L1081 478.7 L1081.5 476.22 L1082 473.37 L1082.5 470.14 L1083 466.53 L1083.5 462.52 L1084 458.13 L1084.5 453.4 L1085 448.35 L1085.5 443.04 L1086 437.54 L1086.5 431.92 L1087 426.29 L1087.5 420.74 L1088 415.39 L1088.5 410.34 L1089 405.71 L1089.5 401.61 L1090 398.14 L1090.5 395.38 L1091 393.41 L1091.5 392.28 L1092 392.02 L1092.5 392.63 L1093 394.1 L1093.5 396.39 L1094 399.44 L1094.5 403.18 L1095 407.5 L1095.5 412.31 L1096 417.5 L1096.5 422.94 L1097 428.54 L1097.5 434.18 L1098 439.76 L1098.5 445.19 L1099 450.4 L1099.5 455.33 L1100 459.93 L1100.5 464.17 L1101 468.02 L1101.5 471.48 L1102 474.56 L1102.5 477.26 L1103 479.6 L1103.5 481.61 L1104 483.32 L1104.5 484.76 L1105 485.95 L1105.5 486.94 L1106 487.74 L1106.5 488.38 L1107 488.9 L1107.5 489.3 L1108 489.62 L1108.5 489.87 L1109 490.06 L1109.5 490.2 L1110 490.31 L1110.5 490.39 L1111 490.45 L1111.5 490.49 L1112 490.53 L1112.5 490.55 L1113 490.56 L1113.5 490.58 L1114 490.58 L1114.5 490.59 L1115 490.59 L1115.5 490.6 L1116 490.6 L1116.5 490.6 L1117 490.6 L1117.5 490.6 L1118 490.6 L1118.5 490.6 L1119 490.6 L1119.5 490.6 L1120 490.6 L1120.5 490.6 L1121 490.6 L1121.5 490.6 L1122 490.6 L1122.5 490.6 L1123 490.6 L1123.5 490.6 L1124 490.6 L1124.5 490.6 L1125 490.6 L1125.5 490.6 L1126 490.6 L1126.5 490.59 L1127 490.59 L1127.5 490.58 L1128 490.58 L1128.5 490.57 L1129 490.55 L1129.5 490.53 L1130 490.5 L1130.5 490.47 L1131 490.41 L1131.5 490.34 L1132 490.24 L1132.5 490.12 L1133 489.95 L1133.5 489.73 L1134 489.45 L1134.5 489.09 L1135 488.63 L1135.5 488.07 L1136 487.36 L1136.5 486.5 L1137 485.46 L1137.5 484.2 L1138 482.72 L1138.5 480.97 L1139 478.94 L1139.5 476.6 L1140 473.95 L1140.5 470.97 L1141 467.66 L1141.5 464.03 L1142 460.1 L1142.5 455.9 L1143 451.47 L1143.5 446.87 L1144 442.16 L1144.5 437.41 L1145 432.72 L1145.5 428.17 L1146 423.86 L1146.5 419.89 L1147 416.34 L1147.5 413.3 L1148 410.86 L1148.5 409.06 L1149 407.97 L1149.5 407.6 L1150 407.97 L1150.5 409.06 L1151 410.86 L1151.5 413.3 L1152 416.34 L1152.5 419.89 L1153 423.86 L1153.5 428.17 L1154 432.72 L1154.5 437.41 L1155 442.16 L1155.5 446.87 L1156 451.47 L1156.5 455.9 L1157 460.1 L1157.5 464.03 L1158 467.66 L1158.5 470.97 L1159 473.95 L1159.5 476.6 L1160 478.94 L1160.5 480.97 L1161 482.72 L1161.5 484.2 L1162 485.46 L1162.5 486.5 L1163 487.36 L1163.5 488.07 L1164 488.63 L1164.5 489.09 L1165 489.45 L1165.5 489.73 L1166 489.95 L1166.5 490.12 L1167 490.24 L1167.5 490.34 L1168 490.41 L1168.5 490.47 L1169 490.5 L1169.5 490.53 L1170 490.55 L1170.5 490.57 L1171 490.58 L1171.5 490.58 L1172 490.59 L1172.5 490.59 L1173 490.6 L1173.5 490.6 L1174 490.6 L1174.5 490.6 L1175 490.6 L1175.5 490.6 L1176 490.6 L1176.5 490.6 L1177 490.6 L1177.5 490.6 L1178 490.6 L1178.5 490.6 L1179 490.6 L1179.5 490.6 L1180 490.6 L1180.5 490.6 L1181 490.6 L1181.5 490.6 L1182 490.6 L1182.5 490.6 L1183 490.6 L1183.5 490.6 L1184 490.6 L1184.5 490.6 L1185 490.6 L1185.5 490.59 L1186 490.59 L1186.5 490.58 L1187 490.58 L1187.5 490.57 L1188 490.56 L1188.5 490.54 L1189 490.51 L1189.5 490.48 L1190 490.44 L1190.5 490.38 L1191 490.3 L1191.5 490.2 L1192 490.08 L1192.5 489.92 L1193 489.72 L1193.5 489.46 L1194 489.15 L1194.5 488.78 L1195 488.32 L1195.5 487.77 L1196 487.13 L1196.5 486.37 L1197 485.5 L1197.5 484.5 L1198 483.37 L1198.5 482.11 L1199 480.71 L1199.5 479.19 L1200 477.55 L1200.5 475.8 L1201 473.97 L1201.5 472.08 L1202 470.16 L1202.5 468.24 L1203 466.35 L1203.5 464.54 L1204 462.84 L1204.5 461.29 L1205 459.93 L1205.5 458.79 L1206 457.9 L1206.5 457.28 L1207 456.95 L1207.5 456.92 L1208 457.19 L1208.5 457.75 L1209 458.59 L1209.5 459.68 L1210 461 L1210.5 462.52 L1211 464.19 L1211.5 465.98 L1212 467.86 L1212.5 469.77 L1213 471.7 L1213.5 473.6 L1214 475.44 L1214.5 477.21 L1215 478.87 L1215.5 480.42 L1216 481.84 L1216.5 483.13 L1217 484.29 L1217.5 485.31 L1218 486.21 L1218.5 486.99 L1219 487.65 L1219.5 488.22 L1220 488.69 L1220.5 489.08 L1221 489.41 L1221.5 489.67 L1222 489.88 L1222.5 490.05 L1223 490.18 L1223.5 490.28 L1224 490.36 L1224.5 490.43 L1225 490.47 L1225.5 490.51 L1226 490.53 L1226.5 490.55 L1227 490.57 L1227.5 490.58 L1228 490.58 L1228.5 490.59 L1229 490.59 L1229.5 490.59 L1230 490.6 L1230.5 490.6 L1231 490.6 L1231.5 490.6 L1232 490.6 L1232.5 490.6 L1233 490.6 L1233.5 490.6 L1234 490.6 L1234.5 490.6 L1235 490.6 L1235.5 490.6 L1236 490.6 L1236.5 490.6 L1237 490.6 L1237.5 490.6 L1238 490.6 L1238.5 490.6 L1239 490.6 L1239.5 490.6 L1240 490.6 L1240.5 490.6 L1241 490.6 L1241.5 490.6 L1242 490.6 L1242.5 490.6 L1243 490.6 L1243.5 490.6 L1244 490.6 L1244.5 490.6 L1245 490.59 L1245.5 490.59 L1246 490.59 L1246.5 490.59 L1247 490.58 L1247.5 490.57 L1248 490.56 L1248.5 490.55 L1249 490.53 L1249.5 490.51 L1250 490.48 L1250.5 490.44 L1251 490.4 L1251.5 490.34 L1252 490.27 L1252.5 490.18 L1253 490.07 L1253.5 489.95 L1254 489.8 L1254.5 489.62 L1255 489.42 L1255.5 489.19 L1256 488.93 L1256.5 488.63 L1257 488.31 L1257.5 487.96 L1258 487.58 L1258.5 487.18 L1259 486.75 L1259.5 486.31 L1260 485.87 L1260.5 485.42 L1261 484.99 L1261.5 484.57 L1262 484.17 L1262.5 483.82 L1263 483.5 L1263.5 483.24 L1264 483.03 L1264.5 482.89 L1265 482.81 L1265.5 482.81 L1266 482.87 L1266.5 483 L1267 483.19 L1267.5 483.44 L1268 483.75 L1268.5 484.1 L1269 484.49 L1269.5 484.9 L1270 485.34 L1270.5 485.78 L1271 486.23 L1271.5 486.67 L1272 487.09 L1272.5 487.5 L1273 487.89 L1273.5 488.24 L1274 488.57 L1274.5 488.87 L1275 489.14 L1275.5 489.38 L1276 489.58 L1276.5 489.76 L1277 489.92 L1277.5 490.05 L1278 490.16 L1278.5 490.25 L1279 490.32 L1279.5 490.38 L1280 490.43 L1280.5 490.47 L1281 490.5 L1281.5 490.53 L1282 490.55 L1282.5 490.56 L1283 490.57 L1283.5 490.58 L1284 490.58 L1284.5 490.59 L1285 490.59 L1285.5 490.59 L1286 490.6 L1286.5 490.6 L1287 490.6 L1287.5 490.6 L1288 490.6 L1288.5 490.6 L1289 490.6 L1289.5 490.6 L1290 490.6 L1290.5 490.6 L1291 490.6 L1291.5 490.6 L1292 490.6 L1292.5 490.6 L1293 490.6 L1293.5 490.6 L1294 490.6 L1294.5 490.6 L1295 490.6 L1295.5 490.6 L1296 490.6 L1296.5 490.6 L1297 490.6 L1297.5 490.6 L1298 490.6 L1298.5 490.6 L1299 490.6 L1299.5 490.6 L1300 490.6 L1300.5 490.6 L1301 490.6 L1301.5 490.6 L1302 490.6 L1302.5 490.6 L1303 490.6 L1303.5 490.6 L1304 490.6 L1304.5 490.6 L1305 490.6 L1305.5 490.6 L1306 490.6 L1306.5 490.6 L1307 490.6 L1307.5 490.6" fill="none" stroke="#000" stroke-width="2.8" stroke-linejoin="round"/>
<path d="M1001 610 L1001.5 610.09 L1002 610.12 L1002.5 610.22 L1003 610.05 L1003.5 610.18 L1004 609.45 L1004.5 609.79 L1005 610.16 L1005.5 609.91 L1006 610.1 L1006.5 609.45 L1007 609.72 L1007.5 609.53 L1008 609.75 L1008.5 609.76 L1009 609.3 L1009.5 609.45 L1010 609.49 L1010.5 609.98 L1011 609.85 L1011.5 609.35 L1012 609.84 L1012.5 609.3 L1013 609.67 L1013.5 609.27 L1014 609.15 L1014.5 609.83 L1015 609.29 L1015.5 609.28 L1016 609.88 L1016.5 609.78 L1017 609.3 L1017.5 609.82 L1018 609.47 L1018.5 609.57 L1019 609.18 L1019.5 609.75 L1020 609.54 L1020.5 609.75 L1021 609.68 L1021.5 609.19 L1022 609.23 L1022.5 609.06 L1023 609.03 L1023.5 608.95 L1024 609.13 L1024.5 609.36 L1025 608.87 L1025.5 609.39 L1026 609.11 L1026.5 609.08 L1027 609.47 L1027.5 609.19 L1028 609.05 L1028.5 609.17 L1029 609.34 L1029.5 608.81 L1030 609.54 L1030.5 608.77 L1031 609.34 L1031.5 609.41 L1032 608.74 L1032.5 609.35 L1033 609 L1033.5 609.17 L1034 608.7 L1034.5 608.73 L1035 608.83 L1035.5 609.44 L1036 608.83 L1036.5 609.27 L1037 609.41 L1037.5 609.41 L1038 608.93 L1038.5 608.93 L1039 609.07 L1039.5 609.26 L1040 608.72 L1040.5 609.23 L1041 609.27 L1041.5 609.31 L1042 608.65 L1042.5 609.37 L1043 608.69 L1043.5 608.88 L1044 609.09 L1044.5 609.34 L1045 608.87 L1045.5 609.33 L1046 609.02 L1046.5 608.83 L1047 608.83 L1047.5 608.72 L1048 608.63 L1048.5 608.68 L1049 609.11 L1049.5 609.35 L1050 608.68 L1050.5 608.58 L1051 609.32 L1051.5 608.96 L1052 608.85 L1052.5 608.7 L1053 608.98 L1053.5 609.16 L1054 608.85 L1054.5 608.82 L1055 608.52 L1055.5 609.2 L1056 608.48 L1056.5 608.84 L1057 609.1 L1057.5 608.52 L1058 608.99 L1058.5 609.15 L1059 608.89 L1059.5 609 L1060 608.44 L1060.5 608.69 L1061 608.44 L1061.5 608.98 L1062 608.53 L1062.5 608.64 L1063 609.06 L1063.5 608.92 L1064 609 L1064.5 608.56 L1065 608.57 L1065.5 608.74 L1066 608.52 L1066.5 608.34 L1067 608.38 L1067.5 607.96 L1068 607.78 L1068.5 607.79 L1069 607.18 L1069.5 606.26 L1070 605.46 L1070.5 604.74 L1071 604 L1071.5 603.15 L1072 602.16 L1072.5 601.04 L1073 599.81 L1073.5 598.47 L1074 597.04 L1074.5 595.51 L1075 593.9 L1075.5 592.09 L1076 589.99 L1076.5 587.66 L1077 585.16 L1077.5 582.55 L1078 579.87 L1078.5 577.2 L1079 574.61 L1079.5 572.06 L1080 569.37 L1080.5 566.39 L1081 562.95 L1081.5 558.75 L1082 552.82 L1082.5 546.04 L1083 539.7 L1083.5 533.66 L1084 527.71 L1084.5 522.98 L1085 520.11 L1085.5 517.82 L1086 516.64 L1086.5 516.78 L1087 517.48 L1087.5 518.59 L1088 520.04 L1088.5 521.73 L1089 523.56 L1089.5 525.43 L1090 527.54 L1090.5 530.29 L1091 533.47 L1091.5 536.82 L1092 540.1 L1092.5 543.07 L1093 545.93 L1093.5 548.81 L1094 551.65 L1094.5 554.39 L1095 556.96 L1095.5 559.32 L1096 561.41 L1096.5 563.35 L1097 565.18 L1097.5 566.93 L1098 568.58 L1098.5 570.17 L1099 571.7 L1099.5 573.19 L1100 574.63 L1100.5 576.06 L1101 577.47 L1101.5 578.88 L1102 580.29 L1102.5 581.69 L1103 583.07 L1103.5 584.42 L1104 585.75 L1104.5 587.04 L1105 588.28 L1105.5 589.47 L1106 590.61 L1106.5 591.69 L1107 592.7 L1107.5 593.7 L1108 594.71 L1108.5 595.69 L1109 596.63 L1109.5 597.49 L1110 598.24 L1110.5 598.86 L1111 599.33 L1111.5 599.66 L1112 599.97 L1112.5 600.26 L1113 600.53 L1113.5 600.78 L1114 601 L1114.5 601.21 L1115 601.4 L1115.5 601.57 L1116 601.73 L1116.5 601.87 L1117 601.99 L1117.5 602.09 L1118 602.18 L1118.5 602.26 L1119 602.34 L1119.5 602.42 L1120 602.49 L1120.5 602.56 L1121 602.62 L1121.5 602.68 L1122 602.74 L1122.5 602.78 L1123 602.82 L1123.5 602.86 L1124 602.88 L1124.5 602.89 L1125 602.9 L1125.5 602.88 L1126 602.82 L1126.5 602.73 L1127 602.6 L1127.5 602.43 L1128 602.24 L1128.5 602.02 L1129 601.77 L1129.5 601.49 L1130 601.19 L1130.5 600.87 L1131 600.42 L1131.5 599.66 L1132 598.64 L1132.5 597.42 L1133 596.05 L1133.5 594.59 L1134 593.11 L1134.5 591.66 L1135 590.26 L1135.5 588.83 L1136 587.34 L1136.5 585.78 L1137 584.16 L1137.5 582.45 L1138 580.66 L1138.5 578.78 L1139 576.8 L1139.5 574.69 L1140 572.44 L1140.5 570 L1141 567.37 L1141.5 564.51 L1142 561.35 L1142.5 557.68 L1143 553.63 L1143.5 549.34 L1144 544.72 L1144.5 538.89 L1145 534.44 L1145.5 532.74 L1146 531.49 L1146.5 530.71 L1147 530.52 L1147.5 531.07 L1148 532.28 L1148.5 533.93 L1149 535.85 L1149.5 537.83 L1150 539.7 L1150.5 541.56 L1151 543.63 L1151.5 545.85 L1152 548.15 L1152.5 550.48 L1153 552.77 L1153.5 554.98 L1154 557.03 L1154.5 558.92 L1155 560.75 L1155.5 562.55 L1156 564.3 L1156.5 566.02 L1157 567.69 L1157.5 569.31 L1158 570.88 L1158.5 572.39 L1159 573.85 L1159.5 575.26 L1160 576.6 L1160.5 577.91 L1161 579.17 L1161.5 580.4 L1162 581.59 L1162.5 582.75 L1163 583.87 L1163.5 584.96 L1164 586.01 L1164.5 587.03 L1165 588.02 L1165.5 588.98 L1166 589.85 L1166.5 590.66 L1167 591.82 L1167.5 593.23 L1168 594.25 L1168.5 594.74 L1169 595.9 L1169.5 596.6 L1170 597.12 L1170.5 597.54 L1171 597.91 L1171.5 597.82 L1172 598.3 L1172.5 598.14 L1173 598.46 L1173.5 598.82 L1174 598.89 L1174.5 598.69 L1175 599.32 L1175.5 599.2 L1176 599.26 L1176.5 598.92 L1177 599.49 L1177.5 599.4 L1178 599.91 L1178.5 599.95 L1179 600.47 L1179.5 600.59 L1180 600.98 L1180.5 600.88 L1181 601.38 L1181.5 601.71 L1182 602 L1182.5 601.81 L1183 602.35 L1183.5 602.46 L1184 602.35 L1184.5 602.55 L1185 602.44 L1185.5 601.94 L1186 601.75 L1186.5 601.23 L1187 601.49 L1187.5 601.27 L1188 600.58 L1188.5 600.41 L1189 600.08 L1189.5 599.74 L1190 598.94 L1190.5 599.08 L1191 598.53 L1191.5 598.16 L1192 597.48 L1192.5 597.13 L1193 596.71 L1193.5 596.05 L1194 595.56 L1194.5 594.46 L1195 594.03 L1195.5 593.74 L1196 593.43 L1196.5 592.64 L1197 592.59 L1197.5 592.14 L1198 591.27 L1198.5 591.22 L1199 590.64 L1199.5 590.1 L1200 589.75 L1200.5 589.47 L1201 588.9 L1201.5 588.42 L1202 587.77 L1202.5 587.54 L1203 586.83 L1203.5 586.17 L1204 585.13 L1204.5 583.73 L1205 583.11 L1205.5 581.29 L1206 580.64 L1206.5 579.75 L1207 579.34 L1207.5 578.7 L1208 578.92 L1208.5 578.3 L1209 577.93 L1209.5 578.47 L1210 578.28 L1210.5 578.99 L1211 579.28 L1211.5 580.01 L1212 580.92 L1212.5 581.46 L1213 581.82 L1213.5 582.81 L1214 583.35 L1214.5 583.93 L1215 584.7 L1215.5 586.12 L1216 587.21 L1216.5 588.65 L1217 589.75 L1217.5 590.47 L1218 591.13 L1218.5 592.31 L1219 592.34 L1219.5 593.16 L1220 594.25 L1220.5 594.99 L1221 595.29 L1221.5 596.32 L1222 597.14 L1222.5 597.29 L1223 597.86 L1223.5 598.16 L1224 598.62 L1224.5 599.51 L1225 599.3 L1225.5 599.99 L1226 600.16 L1226.5 600.09 L1227 599.99 L1227.5 600.73 L1228 600.48 L1228.5 600.55 L1229 600.6 L1229.5 601.25 L1230 600.98 L1230.5 600.93 L1231 601.19 L1231.5 601.03 L1232 601.55 L1232.5 601.53 L1233 601.55 L1233.5 602.09 L1234 602.29 L1234.5 601.82 L1235 602.42 L1235.5 602.42 L1236 603.14 L1236.5 603.22 L1237 602.98 L1237.5 603.17 L1238 603.24 L1238.5 604.05 L1239 603.6 L1239.5 603.93 L1240 603.87 L1240.5 604.01 L1241 603.93 L1241.5 603.96 L1242 603.34 L1242.5 603.7 L1243 603.16 L1243.5 603.17 L1244 602.83 L1244.5 602.61 L1245 602.63 L1245.5 602.43 L1246 602.23 L1246.5 602.44 L1247 602.28 L1247.5 601.84 L1248 602.05 L1248.5 602.29 L1249 602.76 L1249.5 602.86 L1250 602.73 L1250.5 602.45 L1251 603.21 L1251.5 603.08 L1252 603.33 L1252.5 603.56 L1253 603.6 L1253.5 603.55 L1254 603.93 L1254.5 603.5 L1255 603.49 L1255.5 603.81 L1256 603.23 L1256.5 603.23 L1257 603.57 L1257.5 602.85 L1258 603.35 L1258.5 603.11 L1259 602.77 L1259.5 602.51 L1260 602.76 L1260.5 602.72 L1261 601.95 L1261.5 602.07 L1262 601.97 L1262.5 601.79 L1263 601.51 L1263.5 601.23 L1264 601.44 L1264.5 601.48 L1265 600.72 L1265.5 600.67 L1266 600.95 L1266.5 600.74 L1267 600.44 L1267.5 599.74 L1268 600.13 L1268.5 600.17 L1269 600.05 L1269.5 599.7 L1270 599.09 L1270.5 599.68 L1271 599.18 L1271.5 599.53 L1272 599.8 L1272.5 599.64 L1273 599.22 L1273.5 599.4 L1274 599.97 L1274.5 599.42 L1275 599.86 L1275.5 599.78 L1276 599.66 L1276.5 600.12 L1277 599.78 L1277.5 600.02 L1278 600.46 L1278.5 600.49 L1279 600.79 L1279.5 601.54 L1280 602.03 L1280.5 602.52 L1281 602.3 L1281.5 602.92 L1282 603.2 L1282.5 603.79 L1283 604.04 L1283.5 604.72 L1284 604.55 L1284.5 604.53 L1285 605.24 L1285.5 604.94 L1286 605.4 L1286.5 605.33 L1287 605.68 L1287.5 605.42 L1288 605.5 L1288.5 605.24 L1289 605.49 L1289.5 605.27 L1290 605.69 L1290.5 605.52 L1291 605.23 L1291.5 605.33 L1292 605.45 L1292.5 605.75 L1293 605.32 L1293.5 605.75 L1294 605.71 L1294.5 605.26 L1295 605.73 L1295.5 605.27 L1296 605.3 L1296.5 605.65 L1297 605.31 L1297.5 605.75 L1298 605.35 L1298.5 605.13 L1299 605.4 L1299.5 604.68 L1300 605.13 L1300.5 604.5 L1301 604.49 L1301.5 605.05 L1302 604.78 L1302.5 604.38 L1303 604.3 L1303.5 605.01 L1304 604.81 L1304.5 605 L1305 604.54 L1305.5 605.02 L1306 604.9 L1306.5 604.9 L1307 605.07 L1307.5 605.38" fill="none" stroke="#223EFF" stroke-width="2.9" stroke-linejoin="round"/>
<path d="M999.9 622.4 H1308.9" stroke="#000" stroke-width="3"/>
<path d="M1013.3 622.4 V624.7 M1043.4 622.4 V626.2 M1073.5 622.4 V624.7 M1103.6 622.4 V626.2 M1133.7 622.4 V624.7 M1163.8 622.4 V626.2 M1193.9 622.4 V624.7 M1224 622.4 V626.2 M1254.1 622.4 V624.7 M1284.2 622.4 V626.2" stroke="#000" stroke-width="2.6"/>
<text x="1043.4" y="646" font-family='"Liberation Serif", serif' font-size="24" font-weight="bold" fill="#000" text-anchor="middle" >1088</text>
<text x="1103.6" y="646" font-family='"Liberation Serif", serif' font-size="24" font-weight="bold" fill="#000" text-anchor="middle" >1089</text>
<text x="1163.8" y="646" font-family='"Liberation Serif", serif' font-size="24" font-weight="bold" fill="#000" text-anchor="middle" >1090</text>
<text x="1224" y="646" font-family='"Liberation Serif", serif' font-size="24" font-weight="bold" fill="#000" text-anchor="middle" >1091</text>
<text x="1284.2" y="646" font-family='"Liberation Serif", serif' font-size="24" font-weight="bold" fill="#000" text-anchor="middle" >1092</text>
<text x="1167.1" y="400.7" font-family='"Liberation Sans", sans-serif' font-size="29.4" font-weight="bold" fill="#000" text-anchor="start" textLength="159" lengthAdjust="spacingAndGlyphs">Calculated</text>
<text x="1170.9" y="536.3" font-family='"Liberation Sans", sans-serif' font-size="29.4" font-weight="bold" fill="#223EFF" text-anchor="start" textLength="147" lengthAdjust="spacingAndGlyphs">Measured</text>
</svg>
</body></html>
